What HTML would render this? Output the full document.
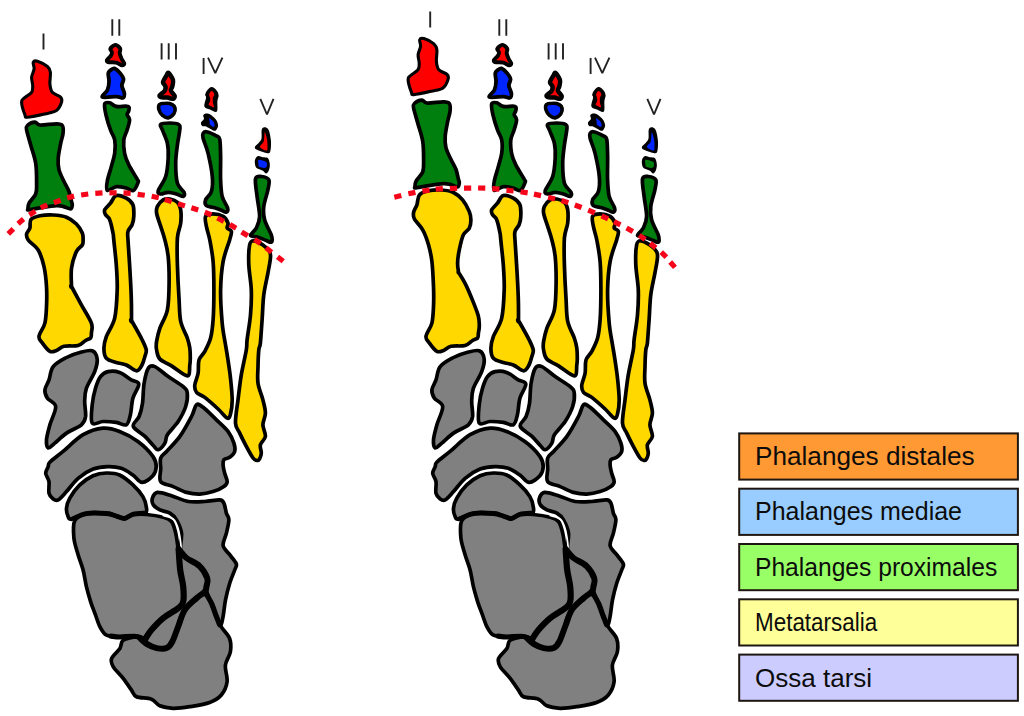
<!DOCTYPE html>
<html><head><meta charset="utf-8"><title>Ossa pedis</title>
<style>
html,body{margin:0;padding:0;background:#fff;}
body{width:1024px;height:716px;overflow:hidden;position:relative;font-family:"Liberation Sans",sans-serif;}
svg{position:absolute;left:0;top:0;display:block}
.lt{position:absolute;left:754.5px;height:30px;line-height:30px;font-size:26px;color:#0c0c0c;white-space:nowrap;transform-origin:0 50%;display:block}
</style></head><body>
<svg width="1024" height="716" viewBox="0 0 1024 716">
<defs><clipPath id="c1"><path d="M115.5,44.6 C117.2,44.6 119.8,47.2 120.5,48.6 C121.2,50.0 119.7,51.5 120.0,53.2 C120.3,55.0 121.3,57.4 122.1,59.1 C122.9,60.8 124.6,62.4 124.6,63.5 C124.6,64.6 123.5,65.8 122.1,65.7 C120.7,65.6 118.6,63.5 116.3,62.9 C114.0,62.3 109.6,62.9 108.0,62.4 C106.4,61.9 106.3,61.0 106.7,59.9 C107.1,58.8 109.7,57.0 110.5,55.7 C111.3,54.5 111.8,53.6 111.7,52.4 C111.6,51.2 109.4,49.9 110.0,48.6 C110.6,47.3 113.8,44.6 115.5,44.6Z"/></clipPath><clipPath id="c2"><path d="M114.7,68.2 C116.4,68.8 119.0,71.4 120.5,73.2 C122.0,75.0 123.5,76.9 123.8,79.0 C124.1,81.1 122.0,83.2 122.1,85.6 C122.2,87.9 124.4,91.0 124.6,93.1 C124.8,95.2 124.4,97.5 123.0,98.1 C121.6,98.7 119.8,96.9 116.3,96.8 C112.8,96.7 103.7,98.5 102.2,97.3 C100.7,96.1 106.1,92.4 107.2,89.8 C108.3,87.2 108.7,84.3 108.8,81.5 C108.9,78.7 107.7,75.1 108.0,73.2 C108.3,71.3 109.4,70.7 110.5,69.9 C111.6,69.1 113.0,67.7 114.7,68.2Z"/></clipPath><clipPath id="c3"><path d="M168.6,72.3 C169.9,73.0 172.8,77.4 173.5,79.8 C174.2,82.2 173.2,84.7 172.9,86.5 C172.6,88.3 171.1,89.1 171.5,90.6 C171.9,92.1 174.9,94.1 175.2,95.6 C175.5,97.1 174.8,99.0 173.5,99.4 C172.2,99.8 169.5,98.4 167.4,98.1 C165.3,97.8 162.1,98.3 160.7,97.8 C159.3,97.3 158.5,96.3 159.1,95.1 C159.7,93.9 163.1,92.0 164.1,90.6 C165.1,89.2 165.2,87.9 164.9,86.5 C164.6,85.1 162.3,84.1 162.4,82.3 C162.5,80.5 164.7,77.4 165.7,75.7 C166.7,74.0 167.3,71.6 168.6,72.3Z"/></clipPath><clipPath id="c4"><path d="M159.1,104.7 C160.2,103.5 163.5,103.1 165.7,103.1 C167.9,103.0 170.8,103.6 172.4,104.4 C174.0,105.2 174.9,106.5 175.2,108.1 C175.5,109.7 175.2,112.2 174.0,113.9 C172.8,115.6 170.1,117.7 168.2,118.0 C166.3,118.3 163.9,116.7 162.4,115.5 C160.9,114.3 159.7,112.4 159.1,110.6 C158.5,108.8 158.0,106.0 159.1,104.7Z"/></clipPath></defs>
<g><path d="M179.0,549.0 C180.0,546.8 182.5,554.2 186.0,557.0 C189.5,559.8 196.3,562.5 200.0,566.0 C203.7,569.5 206.8,574.3 208.0,578.0 C209.2,581.7 207.5,585.5 207.0,588.0 C206.5,590.5 206.7,591.2 205.0,593.0 C203.3,594.8 200.2,596.2 197.0,599.0 C193.8,601.8 189.0,605.5 186.0,610.0 C183.0,614.5 181.3,620.8 179.0,626.0 C176.7,631.2 174.2,637.3 172.0,641.0 C169.8,644.7 169.7,647.3 166.0,648.0 C162.3,648.7 153.3,646.7 150.0,645.0 C146.7,643.3 145.7,640.7 146.0,638.0 C146.3,635.3 149.2,632.3 152.0,629.0 C154.8,625.7 158.7,621.5 163.0,618.0 C167.3,614.5 174.7,610.8 178.0,608.0 C181.3,605.2 182.2,604.7 183.0,601.0 C183.8,597.3 183.5,591.2 183.0,586.0 C182.5,580.8 180.7,576.2 180.0,570.0 C179.3,563.8 178.0,551.2 179.0,549.0Z" fill="#808080"/>
<path d="M116.3,195.6 C118.9,194.8 123.5,196.6 126.3,198.1 C129.1,199.6 131.7,201.8 132.9,204.8 C134.2,207.9 133.9,213.1 133.8,216.4 C133.7,219.7 133.1,222.2 132.1,224.7 C131.1,227.2 128.7,228.8 128.0,231.4 C127.3,234.0 127.7,234.4 128.0,240.0 C128.3,245.6 129.0,255.2 129.6,264.9 C130.2,274.6 131.0,288.9 131.3,298.2 C131.6,307.5 131.5,316.8 131.5,320.5 C131.5,324.2 129.7,317.3 131.5,320.5 C133.3,323.7 139.7,334.8 142.1,339.7 C144.5,344.6 145.7,347.0 146.2,349.7 C146.7,352.4 145.7,353.4 145.0,356.0 C144.3,358.6 143.4,362.5 142.0,365.0 C140.6,367.5 139.1,370.8 136.5,370.8 C133.9,370.8 129.7,366.4 126.3,365.0 C122.9,363.6 119.6,363.6 116.3,362.5 C113.0,361.4 108.5,360.7 106.4,358.3 C104.3,355.9 103.9,351.6 103.9,348.0 C103.9,344.4 104.6,341.4 106.4,336.4 C108.2,331.4 112.9,325.9 114.7,318.1 C116.5,310.4 116.9,298.8 117.2,289.9 C117.5,281.0 116.9,273.2 116.3,264.9 C115.7,256.6 114.3,245.3 113.8,240.0 C113.2,234.7 113.7,236.4 113.0,233.0 C112.3,229.6 111.0,222.8 109.7,219.7 C108.5,216.6 106.3,216.3 105.5,214.7 C104.7,213.0 103.9,211.7 104.7,209.8 C105.5,207.9 108.6,205.5 110.5,203.1 C112.4,200.7 113.7,196.4 116.3,195.6Z" fill="#FFD800" stroke="#000" stroke-width="3.7" stroke-linejoin="round"/>
<path d="M163.2,199.8 C165.3,198.6 167.5,198.6 169.9,199.0 C172.3,199.4 175.6,200.5 177.4,202.3 C179.2,204.1 180.1,206.3 180.7,209.8 C181.2,213.3 181.2,218.4 180.7,223.1 C180.1,227.8 177.9,231.0 177.4,238.0 C176.9,245.0 177.1,254.9 177.4,264.9 C177.7,274.9 178.4,288.8 179.0,298.2 C179.6,307.6 179.3,314.8 180.7,321.4 C182.1,328.0 185.8,333.6 187.3,338.0 C188.8,342.4 189.3,344.7 189.8,348.0 C190.3,351.3 190.3,355.2 190.3,358.0 C190.3,360.8 190.3,362.0 189.8,365.0 C189.3,368.0 190.4,375.7 187.3,375.8 C184.2,375.9 176.1,368.6 171.5,365.8 C166.9,363.0 162.4,361.7 159.9,359.1 C157.4,356.5 157.2,352.9 156.6,350.0 C156.0,347.1 156.0,345.0 156.6,341.4 C157.2,337.8 158.1,333.4 159.9,328.1 C161.7,322.8 165.9,317.3 167.4,309.8 C168.9,302.3 169.0,292.1 169.1,283.2 C169.2,274.3 168.9,263.8 168.2,256.6 C167.5,249.4 166.2,245.0 164.9,240.0 C163.7,235.0 162.1,230.9 160.7,226.4 C159.3,221.9 157.1,216.4 156.6,213.1 C156.1,209.8 156.3,208.6 157.4,206.4 C158.5,204.2 161.1,201.0 163.2,199.8Z" fill="#FFD800" stroke="#000" stroke-width="3.7" stroke-linejoin="round"/>
<path d="M205.6,216.4 C206.7,214.3 210.2,213.9 213.1,213.9 C216.0,213.9 220.6,214.9 223.1,216.4 C225.6,217.9 227.3,221.2 228.0,223.1 C228.7,225.0 226.6,226.6 227.2,228.0 C227.8,229.4 231.0,229.5 231.4,231.4 C231.8,233.3 231.1,234.7 229.7,239.7 C228.3,244.7 224.6,253.2 223.1,261.6 C221.6,270.0 220.8,279.6 220.6,289.9 C220.4,300.1 221.4,314.0 222.2,323.1 C223.0,332.2 224.5,338.6 225.5,344.7 C226.5,350.8 227.2,354.4 228.0,360.0 C228.8,365.6 229.8,371.6 230.5,378.2 C231.2,384.8 232.2,393.9 232.2,399.9 C232.2,405.9 231.3,411.0 230.5,414.0 C229.7,417.0 229.3,418.9 227.2,418.1 C225.1,417.3 221.8,412.4 218.1,409.0 C214.4,405.6 208.4,400.2 204.8,397.4 C201.2,394.6 198.2,394.5 196.5,392.4 C194.8,390.3 194.5,388.1 194.8,384.9 C195.1,381.7 197.4,377.4 198.1,373.3 C198.8,369.2 197.9,363.7 199.0,360.0 C200.1,356.3 202.9,355.0 204.8,351.3 C206.7,347.6 209.2,343.2 210.6,338.0 C212.0,332.8 212.5,327.8 213.1,319.8 C213.7,311.8 213.9,299.6 213.9,289.9 C213.9,280.2 213.8,269.9 213.1,261.6 C212.4,253.3 210.9,245.9 209.8,240.0 C208.7,234.1 207.1,230.3 206.4,226.4 C205.7,222.5 204.5,218.5 205.6,216.4Z" fill="#FFD800" stroke="#000" stroke-width="3.7" stroke-linejoin="round"/>
<path d="M249.6,245.0 C250.4,241.0 251.6,240.8 253.8,240.8 C256.0,240.8 260.3,243.2 262.9,245.0 C265.5,246.8 268.4,249.4 269.6,251.6 C270.9,253.8 270.7,254.7 270.4,258.3 C270.1,261.9 269.0,267.1 267.9,273.2 C266.8,279.3 264.8,287.0 263.8,294.8 C262.8,302.6 262.7,311.8 262.1,319.8 C261.5,327.8 260.9,338.0 260.4,343.0 C259.8,348.0 259.2,346.1 258.8,350.0 C258.4,353.9 258.1,361.1 258.0,366.6 C257.9,372.1 257.2,377.6 258.0,383.2 C258.8,388.8 261.7,394.9 262.9,399.9 C264.1,404.9 265.4,409.0 265.4,413.1 C265.4,417.2 262.9,420.9 262.9,424.8 C262.9,428.7 265.8,433.1 265.4,436.4 C265.0,439.7 261.1,441.9 260.4,444.7 C259.7,447.5 261.4,450.6 261.3,453.0 C261.2,455.4 260.3,457.6 259.6,458.8 C258.9,460.1 258.2,460.6 257.1,460.5 C256.0,460.4 254.8,460.4 253.0,458.0 C251.2,455.6 248.5,450.5 246.3,446.4 C244.1,442.2 241.5,437.0 239.7,433.1 C237.9,429.2 235.8,428.6 235.5,423.1 C235.2,417.6 237.0,407.9 238.0,399.9 C239.0,391.9 239.9,383.2 241.3,374.9 C242.7,366.6 245.3,355.9 246.3,350.0 C247.3,344.1 246.4,345.6 247.1,339.7 C247.8,333.8 249.8,323.1 250.5,314.8 C251.2,306.5 251.6,298.2 251.3,289.9 C251.0,281.6 249.1,272.4 248.8,264.9 C248.5,257.4 248.8,249.0 249.6,245.0Z" fill="#FFD800" stroke="#000" stroke-width="3.7" stroke-linejoin="round"/>
<path d="M115.5,44.6 C117.2,44.6 119.8,47.2 120.5,48.6 C121.2,50.0 119.7,51.5 120.0,53.2 C120.3,55.0 121.3,57.4 122.1,59.1 C122.9,60.8 124.6,62.4 124.6,63.5 C124.6,64.6 123.5,65.8 122.1,65.7 C120.7,65.6 118.6,63.5 116.3,62.9 C114.0,62.3 109.6,62.9 108.0,62.4 C106.4,61.9 106.3,61.0 106.7,59.9 C107.1,58.8 109.7,57.0 110.5,55.7 C111.3,54.5 111.8,53.6 111.7,52.4 C111.6,51.2 109.4,49.9 110.0,48.6 C110.6,47.3 113.8,44.6 115.5,44.6Z" fill="#000" stroke="#000" stroke-width="3.3" stroke-linejoin="round"/><path d="M115.5,44.6 C117.2,44.6 119.8,47.2 120.5,48.6 C121.2,50.0 119.7,51.5 120.0,53.2 C120.3,55.0 121.3,57.4 122.1,59.1 C122.9,60.8 124.6,62.4 124.6,63.5 C124.6,64.6 123.5,65.8 122.1,65.7 C120.7,65.6 118.6,63.5 116.3,62.9 C114.0,62.3 109.6,62.9 108.0,62.4 C106.4,61.9 106.3,61.0 106.7,59.9 C107.1,58.8 109.7,57.0 110.5,55.7 C111.3,54.5 111.8,53.6 111.7,52.4 C111.6,51.2 109.4,49.9 110.0,48.6 C110.6,47.3 113.8,44.6 115.5,44.6Z" fill="#FF0000" stroke="#000" stroke-width="4.5" stroke-linejoin="round" clip-path="url(#c1)"/><path d="M115.5,44.6 C117.2,44.6 119.8,47.2 120.5,48.6 C121.2,50.0 119.7,51.5 120.0,53.2 C120.3,55.0 121.3,57.4 122.1,59.1 C122.9,60.8 124.6,62.4 124.6,63.5 C124.6,64.6 123.5,65.8 122.1,65.7 C120.7,65.6 118.6,63.5 116.3,62.9 C114.0,62.3 109.6,62.9 108.0,62.4 C106.4,61.9 106.3,61.0 106.7,59.9 C107.1,58.8 109.7,57.0 110.5,55.7 C111.3,54.5 111.8,53.6 111.7,52.4 C111.6,51.2 109.4,49.9 110.0,48.6 C110.6,47.3 113.8,44.6 115.5,44.6Z" fill="none" stroke="#000" stroke-width="2.0" stroke-linejoin="round"/>
<path d="M114.7,68.2 C116.4,68.8 119.0,71.4 120.5,73.2 C122.0,75.0 123.5,76.9 123.8,79.0 C124.1,81.1 122.0,83.2 122.1,85.6 C122.2,87.9 124.4,91.0 124.6,93.1 C124.8,95.2 124.4,97.5 123.0,98.1 C121.6,98.7 119.8,96.9 116.3,96.8 C112.8,96.7 103.7,98.5 102.2,97.3 C100.7,96.1 106.1,92.4 107.2,89.8 C108.3,87.2 108.7,84.3 108.8,81.5 C108.9,78.7 107.7,75.1 108.0,73.2 C108.3,71.3 109.4,70.7 110.5,69.9 C111.6,69.1 113.0,67.7 114.7,68.2Z" fill="#000" stroke="#000" stroke-width="3.3" stroke-linejoin="round"/><path d="M114.7,68.2 C116.4,68.8 119.0,71.4 120.5,73.2 C122.0,75.0 123.5,76.9 123.8,79.0 C124.1,81.1 122.0,83.2 122.1,85.6 C122.2,87.9 124.4,91.0 124.6,93.1 C124.8,95.2 124.4,97.5 123.0,98.1 C121.6,98.7 119.8,96.9 116.3,96.8 C112.8,96.7 103.7,98.5 102.2,97.3 C100.7,96.1 106.1,92.4 107.2,89.8 C108.3,87.2 108.7,84.3 108.8,81.5 C108.9,78.7 107.7,75.1 108.0,73.2 C108.3,71.3 109.4,70.7 110.5,69.9 C111.6,69.1 113.0,67.7 114.7,68.2Z" fill="#0026FF" stroke="#000" stroke-width="4.3" stroke-linejoin="round" clip-path="url(#c2)"/><path d="M114.7,68.2 C116.4,68.8 119.0,71.4 120.5,73.2 C122.0,75.0 123.5,76.9 123.8,79.0 C124.1,81.1 122.0,83.2 122.1,85.6 C122.2,87.9 124.4,91.0 124.6,93.1 C124.8,95.2 124.4,97.5 123.0,98.1 C121.6,98.7 119.8,96.9 116.3,96.8 C112.8,96.7 103.7,98.5 102.2,97.3 C100.7,96.1 106.1,92.4 107.2,89.8 C108.3,87.2 108.7,84.3 108.8,81.5 C108.9,78.7 107.7,75.1 108.0,73.2 C108.3,71.3 109.4,70.7 110.5,69.9 C111.6,69.1 113.0,67.7 114.7,68.2Z" fill="none" stroke="#000" stroke-width="2.0" stroke-linejoin="round"/>
<path d="M104.7,103.9 C105.3,101.9 107.8,102.4 109.7,102.8 C111.6,103.2 113.2,105.8 116.3,106.4 C119.3,107.0 125.9,105.7 128.0,106.4 C130.1,107.1 129.0,109.2 128.8,110.6 C128.7,112.0 127.0,113.2 127.1,114.7 C127.2,116.2 129.6,117.2 129.6,119.7 C129.6,122.2 128.1,126.6 127.1,130.0 C126.1,133.4 124.2,136.1 123.8,140.0 C123.4,143.9 123.8,149.2 124.6,153.3 C125.4,157.5 126.7,160.6 128.8,164.9 C130.9,169.2 135.6,176.1 137.1,179.0 C138.6,181.9 138.8,180.4 138.1,182.3 C137.4,184.2 135.2,189.6 133.2,190.5 C131.2,191.4 128.8,188.7 126.0,188.0 C123.2,187.3 119.6,186.2 116.5,186.6 C113.4,187.0 108.8,191.2 107.3,190.3 C105.8,189.4 106.6,184.9 107.3,181.0 C108.0,177.1 110.1,171.2 111.3,166.6 C112.5,162.0 114.1,157.7 114.7,153.3 C115.3,148.9 115.4,143.9 114.7,140.0 C114.0,136.1 112.0,134.2 110.5,130.0 C109.0,125.8 107.0,119.3 106.0,115.0 C105.0,110.7 104.1,105.9 104.7,103.9Z" fill="#007F0E" stroke="#000" stroke-width="3.7" stroke-linejoin="round"/>
<path d="M168.6,72.3 C169.9,73.0 172.8,77.4 173.5,79.8 C174.2,82.2 173.2,84.7 172.9,86.5 C172.6,88.3 171.1,89.1 171.5,90.6 C171.9,92.1 174.9,94.1 175.2,95.6 C175.5,97.1 174.8,99.0 173.5,99.4 C172.2,99.8 169.5,98.4 167.4,98.1 C165.3,97.8 162.1,98.3 160.7,97.8 C159.3,97.3 158.5,96.3 159.1,95.1 C159.7,93.9 163.1,92.0 164.1,90.6 C165.1,89.2 165.2,87.9 164.9,86.5 C164.6,85.1 162.3,84.1 162.4,82.3 C162.5,80.5 164.7,77.4 165.7,75.7 C166.7,74.0 167.3,71.6 168.6,72.3Z" fill="#000" stroke="#000" stroke-width="3.3" stroke-linejoin="round"/><path d="M168.6,72.3 C169.9,73.0 172.8,77.4 173.5,79.8 C174.2,82.2 173.2,84.7 172.9,86.5 C172.6,88.3 171.1,89.1 171.5,90.6 C171.9,92.1 174.9,94.1 175.2,95.6 C175.5,97.1 174.8,99.0 173.5,99.4 C172.2,99.8 169.5,98.4 167.4,98.1 C165.3,97.8 162.1,98.3 160.7,97.8 C159.3,97.3 158.5,96.3 159.1,95.1 C159.7,93.9 163.1,92.0 164.1,90.6 C165.1,89.2 165.2,87.9 164.9,86.5 C164.6,85.1 162.3,84.1 162.4,82.3 C162.5,80.5 164.7,77.4 165.7,75.7 C166.7,74.0 167.3,71.6 168.6,72.3Z" fill="#FF0000" stroke="#000" stroke-width="5.6" stroke-linejoin="round" clip-path="url(#c3)"/><path d="M168.6,72.3 C169.9,73.0 172.8,77.4 173.5,79.8 C174.2,82.2 173.2,84.7 172.9,86.5 C172.6,88.3 171.1,89.1 171.5,90.6 C171.9,92.1 174.9,94.1 175.2,95.6 C175.5,97.1 174.8,99.0 173.5,99.4 C172.2,99.8 169.5,98.4 167.4,98.1 C165.3,97.8 162.1,98.3 160.7,97.8 C159.3,97.3 158.5,96.3 159.1,95.1 C159.7,93.9 163.1,92.0 164.1,90.6 C165.1,89.2 165.2,87.9 164.9,86.5 C164.6,85.1 162.3,84.1 162.4,82.3 C162.5,80.5 164.7,77.4 165.7,75.7 C166.7,74.0 167.3,71.6 168.6,72.3Z" fill="none" stroke="#000" stroke-width="2.0" stroke-linejoin="round"/>
<path d="M159.1,104.7 C160.2,103.5 163.5,103.1 165.7,103.1 C167.9,103.0 170.8,103.6 172.4,104.4 C174.0,105.2 174.9,106.5 175.2,108.1 C175.5,109.7 175.2,112.2 174.0,113.9 C172.8,115.6 170.1,117.7 168.2,118.0 C166.3,118.3 163.9,116.7 162.4,115.5 C160.9,114.3 159.7,112.4 159.1,110.6 C158.5,108.8 158.0,106.0 159.1,104.7Z" fill="#000" stroke="#000" stroke-width="3.3" stroke-linejoin="round"/><path d="M159.1,104.7 C160.2,103.5 163.5,103.1 165.7,103.1 C167.9,103.0 170.8,103.6 172.4,104.4 C174.0,105.2 174.9,106.5 175.2,108.1 C175.5,109.7 175.2,112.2 174.0,113.9 C172.8,115.6 170.1,117.7 168.2,118.0 C166.3,118.3 163.9,116.7 162.4,115.5 C160.9,114.3 159.7,112.4 159.1,110.6 C158.5,108.8 158.0,106.0 159.1,104.7Z" fill="#0026FF" stroke="#000" stroke-width="4.0" stroke-linejoin="round" clip-path="url(#c4)"/><path d="M159.1,104.7 C160.2,103.5 163.5,103.1 165.7,103.1 C167.9,103.0 170.8,103.6 172.4,104.4 C174.0,105.2 174.9,106.5 175.2,108.1 C175.5,109.7 175.2,112.2 174.0,113.9 C172.8,115.6 170.1,117.7 168.2,118.0 C166.3,118.3 163.9,116.7 162.4,115.5 C160.9,114.3 159.7,112.4 159.1,110.6 C158.5,108.8 158.0,106.0 159.1,104.7Z" fill="none" stroke="#000" stroke-width="2.0" stroke-linejoin="round"/>
<path d="M160.7,124.4 C161.9,123.2 166.8,123.0 169.9,123.0 C173.0,123.0 177.3,123.6 179.0,124.7 C180.7,125.8 180.1,126.3 179.8,129.7 C179.5,133.1 178.1,139.4 177.4,145.0 C176.7,150.6 175.7,156.8 175.7,163.2 C175.7,169.6 176.0,178.3 177.4,183.2 C178.8,188.0 183.0,190.1 184.0,192.3 C185.0,194.5 184.4,196.2 183.2,196.5 C181.9,196.8 179.0,194.7 176.5,194.0 C174.0,193.3 170.8,192.3 168.2,192.3 C165.6,192.3 162.4,194.3 160.7,194.0 C159.0,193.7 157.4,193.6 158.2,190.7 C159.0,187.8 164.0,181.9 165.7,176.5 C167.4,171.1 167.9,163.7 168.2,158.2 C168.5,152.7 168.4,148.0 167.4,143.3 C166.4,138.6 163.5,133.2 162.4,130.0 C161.3,126.8 159.4,125.6 160.7,124.4Z" fill="#007F0E" stroke="#000" stroke-width="3.7" stroke-linejoin="round"/>
<path d="M203.1,133.3 C203.7,132.2 204.2,131.3 206.4,131.7 C208.6,132.1 214.2,134.6 216.4,135.8 C218.6,137.0 219.0,135.9 219.7,139.1 C220.4,142.3 220.4,148.1 220.6,154.9 C220.8,161.7 220.3,173.0 220.6,179.9 C220.9,186.8 221.0,191.8 222.2,196.5 C223.4,201.2 226.9,205.4 227.6,208.0 C228.3,210.6 227.2,211.8 226.2,212.2 C225.2,212.6 223.4,211.0 221.5,210.3 C219.6,209.6 217.2,208.6 214.7,207.8 C212.2,207.0 207.9,206.9 206.4,205.6 C204.9,204.3 204.8,202.2 205.6,199.8 C206.4,197.5 210.3,195.4 211.4,191.5 C212.5,187.6 212.9,182.9 212.3,176.5 C211.8,170.1 209.6,159.7 208.1,153.3 C206.6,146.9 203.9,141.6 203.1,138.3 C202.3,135.0 202.5,134.4 203.1,133.3Z" fill="#007F0E" stroke="#000" stroke-width="3.7" stroke-linejoin="round"/>
<path d="M255.5,179.0 C256.2,175.7 259.1,176.3 261.3,176.5 C263.5,176.7 267.7,177.7 268.8,179.9 C269.9,182.1 268.7,185.4 267.9,189.8 C267.1,194.2 264.4,201.4 263.8,206.4 C263.2,211.4 263.4,215.0 264.6,219.7 C265.8,224.4 269.9,231.2 271.2,234.7 C272.4,238.2 272.2,239.2 272.1,240.5 C272.0,241.8 271.4,242.2 270.4,242.2 C269.4,242.2 268.4,241.3 266.3,240.5 C264.2,239.7 260.6,238.0 258.0,237.2 C255.4,236.4 250.8,237.0 250.5,235.5 C250.2,234.0 254.8,231.2 256.3,228.0 C257.8,224.8 259.5,221.7 259.6,216.4 C259.7,211.2 257.8,202.7 257.1,196.5 C256.4,190.3 254.8,182.3 255.5,179.0Z" fill="#007F0E" stroke="#000" stroke-width="3.7" stroke-linejoin="round"/>
<path d="M53.2,366.6 C56.1,362.9 62.1,359.9 66.5,357.5 C70.9,355.1 75.5,353.6 79.8,352.5 C84.1,351.4 89.3,349.7 92.2,350.8 C95.1,351.9 96.8,355.6 97.2,359.1 C97.6,362.6 96.5,366.8 94.7,371.6 C92.9,376.5 88.1,383.2 86.4,388.2 C84.7,393.2 84.8,396.8 84.7,401.5 C84.6,406.2 86.1,412.6 85.6,416.5 C85.0,420.4 84.6,422.0 81.4,424.8 C78.2,427.6 70.9,430.1 66.5,433.1 C62.1,436.2 57.8,440.6 54.8,443.1 C51.8,445.6 49.6,448.6 48.2,448.0 C46.8,447.4 46.2,443.6 46.5,439.7 C46.8,435.8 48.4,430.3 49.9,424.8 C51.4,419.3 56.1,410.9 55.7,406.5 C55.3,402.1 49.2,401.0 47.4,398.2 C45.6,395.4 44.6,392.9 44.9,389.9 C45.2,386.8 47.6,383.8 49.0,379.9 C50.4,376.0 50.3,370.3 53.2,366.6Z" fill="#808080" stroke="#000" stroke-width="3.7" stroke-linejoin="round"/>
<path d="M100.5,376.6 C102.6,373.8 104.8,372.3 108.0,371.6 C111.2,370.9 115.7,371.0 119.6,372.4 C123.5,373.8 128.1,377.9 131.3,379.9 C134.5,381.8 138.5,381.1 138.8,384.1 C139.1,387.2 134.3,393.1 132.9,398.2 C131.5,403.3 131.5,410.4 130.4,414.8 C129.3,419.2 128.7,423.6 126.3,424.8 C123.9,426.1 120.2,422.9 116.3,422.3 C112.4,421.8 107.0,421.4 103.0,421.5 C99.0,421.6 94.0,425.9 92.2,423.1 C90.4,420.3 91.7,410.6 92.2,404.8 C92.8,399.0 94.1,392.9 95.5,388.2 C96.9,383.5 98.4,379.4 100.5,376.6Z" fill="#808080" stroke="#000" stroke-width="3.7" stroke-linejoin="round"/>
<path d="M148.3,368.3 C150.1,365.5 151.6,365.2 154.9,366.6 C158.2,368.0 163.5,373.3 168.2,376.6 C172.9,379.9 180.0,383.8 183.2,386.6 C186.4,389.4 186.9,389.9 187.3,393.2 C187.7,396.5 187.2,401.8 185.7,406.5 C184.2,411.2 181.2,416.8 178.2,421.5 C175.1,426.2 169.6,431.1 167.4,434.7 C165.2,438.3 166.4,440.6 164.9,443.1 C163.4,445.6 160.1,449.3 158.2,449.7 C156.3,450.1 155.5,447.7 153.3,445.5 C151.1,443.3 148.3,439.6 145.0,436.4 C141.7,433.2 134.3,429.7 133.3,426.4 C132.3,423.1 137.6,420.4 139.1,416.5 C140.6,412.6 141.7,408.8 142.5,403.2 C143.3,397.6 143.1,389.0 144.1,383.2 C145.1,377.4 146.5,371.1 148.3,368.3Z" fill="#808080" stroke="#000" stroke-width="3.7" stroke-linejoin="round"/>
<path d="M196.5,404.8 C198.4,403.3 199.8,404.8 203.1,407.3 C206.4,409.8 212.2,415.8 216.4,419.8 C220.6,423.8 225.1,427.5 228.0,431.4 C230.9,435.3 232.8,439.8 233.9,443.1 C235.0,446.4 235.4,449.0 234.7,451.4 C234.0,453.8 231.5,455.8 229.7,457.2 C227.9,458.6 225.0,458.4 223.9,459.7 C222.8,461.0 223.0,462.7 223.1,465.0 C223.2,467.3 224.0,470.5 224.7,473.3 C225.4,476.1 227.3,479.4 227.2,481.6 C227.1,483.8 226.2,484.9 223.9,486.6 C221.6,488.3 217.1,490.4 213.1,491.6 C209.1,492.9 204.2,494.0 199.8,494.1 C195.4,494.2 190.9,493.6 186.5,492.4 C182.1,491.1 177.5,488.4 173.2,486.6 C168.9,484.8 162.8,484.5 160.7,481.6 C158.6,478.7 160.7,472.9 160.7,469.0 C160.7,465.1 159.7,460.9 160.7,458.0 C161.7,455.1 163.4,455.0 166.6,451.4 C169.8,447.8 175.8,442.2 179.9,436.4 C184.1,430.6 188.7,421.8 191.5,416.5 C194.3,411.2 194.6,406.3 196.5,404.8Z" fill="#808080" stroke="#000" stroke-width="3.7" stroke-linejoin="round"/>
<path d="M48.2,466.6 C48.9,464.7 47.5,464.5 50.0,462.0 C52.5,459.5 57.6,455.9 63.1,451.4 C68.6,446.8 76.4,438.6 83.1,434.7 C89.8,430.8 96.9,428.7 103.0,428.1 C109.1,427.6 113.8,429.2 119.6,431.4 C125.4,433.6 132.3,437.2 137.9,441.4 C143.5,445.5 149.9,452.1 152.9,456.3 C155.9,460.5 156.2,463.4 156.2,466.6 C156.2,469.9 155.2,473.2 152.9,475.8 C150.6,478.4 145.4,482.5 142.1,482.4 C138.8,482.3 136.4,477.4 132.9,475.0 C129.4,472.6 125.5,469.7 121.3,468.3 C117.1,466.9 112.7,466.5 108.0,466.6 C103.3,466.7 98.1,467.2 93.1,469.1 C88.1,471.1 82.5,474.6 78.1,478.3 C73.7,482.1 69.8,488.0 66.5,491.6 C63.2,495.2 60.4,498.7 58.2,499.9 C56.0,501.1 54.7,500.1 53.2,499.0 C51.7,497.9 49.7,496.1 49.0,493.2 C48.3,490.3 49.5,484.9 49.0,481.6 C48.5,478.3 45.8,475.8 45.7,473.3 C45.6,470.8 47.5,468.5 48.2,466.6Z" fill="#808080" stroke="#000" stroke-width="3.7" stroke-linejoin="round"/>
<path d="M66.5,508.2 C66.8,505.1 67.6,502.1 69.8,498.2 C72.0,494.3 75.9,488.6 79.8,484.9 C83.7,481.2 88.7,477.8 93.1,475.8 C97.5,473.8 102.0,473.1 106.4,473.0 C110.8,472.9 115.2,473.0 119.6,475.0 C124.0,477.0 129.0,481.3 132.9,484.9 C136.8,488.5 140.7,493.0 142.9,496.6 C145.1,500.2 145.8,503.7 146.2,506.5 C146.6,509.3 147.6,512.0 145.4,513.2 C143.2,514.5 136.4,513.2 132.9,514.0 C129.4,514.8 127.4,517.9 124.6,518.2 C121.8,518.5 119.3,516.5 116.3,515.7 C113.3,514.9 111.4,513.6 106.4,513.2 C101.4,512.8 92.2,512.2 86.4,513.2 C80.6,514.2 74.5,518.5 71.5,519.0 C68.5,519.5 68.9,518.3 68.1,516.5 C67.3,514.7 66.2,511.2 66.5,508.2Z" fill="#808080" stroke="#000" stroke-width="3.7" stroke-linejoin="round"/>
<path d="M74.8,520.7 C76.9,516.7 81.1,515.3 86.4,514.2 C91.7,513.1 101.4,513.8 106.4,514.2 C111.4,514.6 113.3,515.9 116.3,516.7 C119.3,517.5 121.8,519.5 124.6,519.2 C127.4,518.9 129.3,515.8 132.9,515.0 C136.5,514.2 141.1,514.1 146.2,514.5 C151.2,514.9 159.0,516.1 163.2,517.3 C167.4,518.5 169.4,518.9 171.5,521.5 C173.6,524.1 174.6,528.4 175.7,533.1 C176.8,537.8 177.5,543.6 178.2,549.7 C178.9,555.9 179.1,563.9 179.9,570.0 C180.7,576.1 182.6,581.3 183.2,586.6 C183.8,591.9 184.0,598.0 183.2,601.6 C182.4,605.2 181.5,605.4 178.2,608.2 C174.9,611.0 167.6,614.6 163.2,618.2 C158.8,621.8 154.5,626.5 151.6,629.8 C148.7,633.1 148.3,637.0 145.8,638.1 C143.3,639.2 140.8,636.3 136.5,636.1 C132.2,635.9 124.9,637.0 119.9,636.9 C114.9,636.8 109.9,636.9 106.6,635.2 C103.3,633.5 101.9,630.5 100.0,626.9 C98.1,623.3 96.6,617.8 95.0,613.6 C93.4,609.4 92.0,606.1 90.6,601.6 C89.2,597.1 87.7,591.9 86.4,586.6 C85.2,581.3 84.5,575.3 83.1,570.0 C81.7,564.7 79.6,560.0 78.1,554.7 C76.6,549.4 74.5,543.8 73.9,538.1 C73.4,532.4 72.7,524.7 74.8,520.7Z" fill="#808080" stroke="#000" stroke-width="3.7" stroke-linejoin="round"/>
<path d="M152.4,498.2 C153.1,496.1 154.2,492.8 157.4,492.4 C160.6,492.0 166.4,494.2 171.5,495.7 C176.6,497.2 182.6,500.5 188.2,501.5 C193.8,502.5 199.6,501.8 204.8,501.5 C210.1,501.2 216.5,499.6 219.7,499.9 C222.9,500.2 222.8,501.0 223.9,503.2 C225.0,505.4 225.6,510.4 226.4,513.2 C227.2,516.0 228.9,516.5 228.9,519.8 C228.9,523.1 227.4,528.8 226.4,533.1 C225.4,537.4 222.6,542.0 223.1,545.6 C223.6,549.2 227.5,551.7 229.7,554.7 C231.9,557.8 235.5,561.4 236.3,563.9 C237.1,566.4 235.8,566.8 234.7,570.0 C233.6,573.2 231.2,578.3 229.7,583.3 C228.2,588.3 226.6,594.4 225.5,599.9 C224.4,605.4 223.9,612.4 223.1,616.5 C222.3,620.6 221.7,624.8 220.6,624.8 C219.5,624.8 217.9,620.1 216.4,616.5 C214.9,612.9 213.1,607.6 211.4,603.2 C209.7,598.8 207.1,594.1 206.4,590.0 C205.7,585.9 208.4,582.2 207.3,578.3 C206.2,574.3 203.3,569.7 199.8,566.3 C196.3,562.9 189.7,560.6 186.5,558.0 C183.3,555.4 181.3,554.8 180.5,550.6 C179.7,546.5 182.2,538.2 181.5,533.1 C180.8,528.0 178.4,523.1 176.5,519.8 C174.6,516.5 172.7,514.9 169.9,513.2 C167.1,511.6 162.7,511.3 159.9,509.9 C157.1,508.5 154.6,506.8 153.3,504.9 C152.1,502.9 151.7,500.3 152.4,498.2Z" fill="#808080" stroke="#000" stroke-width="3.7" stroke-linejoin="round"/>
<path d="M123.2,640.2 C126.0,638.3 132.9,637.0 136.5,637.0 C140.1,637.0 142.6,638.8 144.8,640.2 C147.0,641.6 147.0,643.8 149.8,645.2 C152.6,646.6 158.3,648.2 161.5,648.5 C164.7,648.8 166.7,648.7 168.9,646.8 C171.1,644.9 172.7,642.1 174.8,636.9 C176.9,631.6 178.4,621.4 181.4,615.3 C184.4,609.2 189.1,603.8 193.0,600.3 C196.9,596.8 201.6,594.0 204.7,594.5 C207.8,595.0 209.4,599.5 211.4,603.2 C213.4,606.9 214.8,612.5 216.4,616.5 C218.1,620.5 219.1,623.2 221.3,626.9 C223.5,630.6 228.1,634.4 229.6,638.5 C231.1,642.6 231.1,647.4 230.4,651.8 C229.7,656.2 226.0,660.1 225.4,665.1 C224.8,670.1 227.8,676.7 227.1,681.7 C226.4,686.7 224.2,691.5 221.3,695.0 C218.4,698.5 214.9,700.5 209.6,702.5 C204.3,704.5 195.8,705.7 189.7,706.7 C183.6,707.7 178.1,708.4 173.1,708.3 C168.1,708.1 163.4,707.3 159.8,705.8 C156.2,704.3 155.4,700.7 151.5,699.2 C147.6,697.7 139.8,698.2 136.5,696.7 C133.2,695.2 133.7,693.2 131.5,690.1 C129.3,687.0 126.2,682.3 123.2,678.4 C120.2,674.5 115.2,670.1 113.3,666.8 C111.4,663.5 110.5,661.5 111.6,658.5 C112.7,655.5 118.0,651.5 119.9,648.5 C121.8,645.5 120.4,642.1 123.2,640.2Z" fill="#808080" stroke="#000" stroke-width="3.7" stroke-linejoin="round"/>
<path d="M211.7,87.1 C213.2,87.1 215.2,88.9 216.4,90.3 C217.6,91.7 218.4,93.4 218.6,95.2 C218.8,97.0 217.7,98.3 217.4,101.0 C217.1,103.7 218.1,110.2 216.9,111.6 C215.7,113.0 212.1,110.4 210.0,109.5 C207.9,108.6 205.1,108.4 204.4,106.4 C203.8,104.4 206.0,99.5 206.1,97.6 C206.2,95.6 205.0,96.0 205.2,94.7 C205.4,93.4 206.4,91.3 207.5,90.0 C208.6,88.7 210.2,87.0 211.7,87.1Z" fill="#000"/>
<path d="M211.7,91.0 C212.3,91.0 213.2,91.8 213.6,92.5 C214.0,93.2 214.4,94.2 214.3,95.0 C214.2,95.8 213.4,96.3 213.2,97.0 C212.9,97.7 212.8,98.0 212.8,99.0 C212.8,100.0 212.8,101.6 213.0,103.0 C213.2,104.4 214.3,106.7 214.0,107.2 C213.7,107.7 211.9,106.6 211.0,106.2 C210.1,105.8 208.8,105.3 208.6,104.6 C208.4,103.9 209.5,102.9 209.8,102.0 C210.1,101.1 210.3,99.8 210.3,99.0 C210.3,98.2 210.0,97.7 209.8,97.0 C209.6,96.3 209.1,95.8 209.1,95.0 C209.1,94.2 209.5,93.2 209.9,92.5 C210.3,91.8 211.1,91.0 211.7,91.0Z" fill="#FF0000"/>
<path d="M205.6,113.6 C206.5,113.3 207.5,113.4 208.6,113.8 C209.7,114.2 210.7,114.7 212.0,115.8 C213.3,116.9 215.4,118.6 216.4,120.2 C217.4,121.8 218.1,124.0 218.1,125.5 C218.1,127.0 217.3,128.5 216.6,129.4 C215.9,130.3 215.7,131.2 213.9,130.7 C212.2,130.2 208.1,127.3 206.1,126.5 C204.1,125.7 203.0,126.7 202.2,126.0 C201.3,125.3 200.7,123.8 201.0,122.6 C201.3,121.4 203.5,120.1 203.9,118.9 C204.3,117.7 202.9,116.4 203.2,115.5 C203.5,114.6 204.7,113.9 205.6,113.6Z" fill="#000"/>
<path d="M209.1,118.2 C209.7,118.2 212.1,119.9 213.0,121.1 C213.9,122.3 214.7,124.6 214.7,125.5 C214.7,126.4 213.8,126.9 213.0,126.7 C212.2,126.5 210.6,125.4 210.0,124.5 C209.4,123.6 209.8,122.1 209.6,121.1 C209.4,120.0 208.5,118.2 209.1,118.2Z" fill="#0026FF"/>
<path d="M163.2,515.5 C164.4,515.9 168.6,516.8 170.5,517.6 C172.4,518.4 173.4,518.9 174.5,520.3 C175.6,521.7 176.5,523.9 177.3,526.0 C178.1,528.1 178.7,530.6 179.2,533.1 C179.7,535.6 180.2,538.4 180.5,541.0 C180.8,543.6 181.1,547.2 181.2,548.5" fill="none" stroke="#fff" stroke-width="1.7" stroke-linecap="round" stroke-linejoin="round" />
<path d="M71.5,519.0 C74.0,518.0 80.6,514.2 86.4,513.2 C92.2,512.2 101.4,512.8 106.4,513.2 C111.4,513.6 113.3,514.9 116.3,515.7 C119.3,516.5 121.8,518.5 124.6,518.2 C127.4,517.9 129.4,514.9 132.9,514.0 C136.4,513.1 143.3,513.0 145.4,512.8" fill="none" stroke="#000" stroke-width="4.2" stroke-linecap="round" stroke-linejoin="round" />
<path d="M179.9,550.6 C181.0,551.8 183.2,555.4 186.5,558.0 C189.8,560.6 196.3,562.9 199.8,566.3 C203.3,569.7 206.2,574.9 207.3,578.3 C208.4,581.7 206.8,584.4 206.4,586.6 C206.0,588.8 206.5,589.7 204.8,591.6 C203.2,593.5 199.8,595.2 196.5,598.2 C193.2,601.2 187.9,605.2 184.8,609.9 C181.8,614.6 180.3,621.2 178.2,626.5 C176.1,631.8 174.3,637.9 172.4,641.5 C170.5,645.1 169.2,647.0 166.6,648.1 C164.0,649.2 159.9,648.8 156.6,648.1 C153.3,647.4 149.4,645.6 146.6,643.9 C143.8,642.2 141.1,639.1 140.0,638.1" fill="none" stroke="#000" stroke-width="6" stroke-linecap="round" stroke-linejoin="round" />
<path d="M178.6,549.0 C178.9,552.5 179.4,563.7 180.2,570.0 C181.0,576.3 182.7,581.3 183.2,586.6 C183.7,591.9 184.0,598.0 183.2,601.6 C182.4,605.2 181.5,605.4 178.2,608.2 C174.9,611.0 167.6,614.6 163.2,618.2 C158.8,621.8 154.5,626.5 151.6,629.8 C148.7,633.1 146.8,636.7 145.8,638.1" fill="none" stroke="#000" stroke-width="6.2" stroke-linecap="round" stroke-linejoin="round" />
<path d="M204.8,591.6 C205.9,593.5 209.5,599.1 211.4,603.2 C213.3,607.4 215.0,612.9 216.4,616.5 C217.8,620.1 219.1,623.4 219.7,624.8" fill="none" stroke="#000" stroke-width="5.2" stroke-linecap="round" stroke-linejoin="round" />
<path d="M111.0,636.2 C112.5,636.3 115.7,637.0 119.9,637.0 C124.2,637.0 132.3,636.0 136.5,636.5 C140.7,637.0 143.4,639.6 144.8,640.2" fill="none" stroke="#000" stroke-width="5.2" stroke-linecap="round" stroke-linejoin="round" /></g>
<g transform="translate(387 0)"><path d="M179.0,549.0 C180.0,546.8 182.5,554.2 186.0,557.0 C189.5,559.8 196.3,562.5 200.0,566.0 C203.7,569.5 206.8,574.3 208.0,578.0 C209.2,581.7 207.5,585.5 207.0,588.0 C206.5,590.5 206.7,591.2 205.0,593.0 C203.3,594.8 200.2,596.2 197.0,599.0 C193.8,601.8 189.0,605.5 186.0,610.0 C183.0,614.5 181.3,620.8 179.0,626.0 C176.7,631.2 174.2,637.3 172.0,641.0 C169.8,644.7 169.7,647.3 166.0,648.0 C162.3,648.7 153.3,646.7 150.0,645.0 C146.7,643.3 145.7,640.7 146.0,638.0 C146.3,635.3 149.2,632.3 152.0,629.0 C154.8,625.7 158.7,621.5 163.0,618.0 C167.3,614.5 174.7,610.8 178.0,608.0 C181.3,605.2 182.2,604.7 183.0,601.0 C183.8,597.3 183.5,591.2 183.0,586.0 C182.5,580.8 180.7,576.2 180.0,570.0 C179.3,563.8 178.0,551.2 179.0,549.0Z" fill="#808080"/>
<path d="M116.3,195.6 C118.9,194.8 123.5,196.6 126.3,198.1 C129.1,199.6 131.7,201.8 132.9,204.8 C134.2,207.9 133.9,213.1 133.8,216.4 C133.7,219.7 133.1,222.2 132.1,224.7 C131.1,227.2 128.7,228.8 128.0,231.4 C127.3,234.0 127.7,234.4 128.0,240.0 C128.3,245.6 129.0,255.2 129.6,264.9 C130.2,274.6 131.0,288.9 131.3,298.2 C131.6,307.5 131.5,316.8 131.5,320.5 C131.5,324.2 129.7,317.3 131.5,320.5 C133.3,323.7 139.7,334.8 142.1,339.7 C144.5,344.6 145.7,347.0 146.2,349.7 C146.7,352.4 145.7,353.4 145.0,356.0 C144.3,358.6 143.4,362.5 142.0,365.0 C140.6,367.5 139.1,370.8 136.5,370.8 C133.9,370.8 129.7,366.4 126.3,365.0 C122.9,363.6 119.6,363.6 116.3,362.5 C113.0,361.4 108.5,360.7 106.4,358.3 C104.3,355.9 103.9,351.6 103.9,348.0 C103.9,344.4 104.6,341.4 106.4,336.4 C108.2,331.4 112.9,325.9 114.7,318.1 C116.5,310.4 116.9,298.8 117.2,289.9 C117.5,281.0 116.9,273.2 116.3,264.9 C115.7,256.6 114.3,245.3 113.8,240.0 C113.2,234.7 113.7,236.4 113.0,233.0 C112.3,229.6 111.0,222.8 109.7,219.7 C108.5,216.6 106.3,216.3 105.5,214.7 C104.7,213.0 103.9,211.7 104.7,209.8 C105.5,207.9 108.6,205.5 110.5,203.1 C112.4,200.7 113.7,196.4 116.3,195.6Z" fill="#FFD800" stroke="#000" stroke-width="3.7" stroke-linejoin="round"/>
<path d="M163.2,199.8 C165.3,198.6 167.5,198.6 169.9,199.0 C172.3,199.4 175.6,200.5 177.4,202.3 C179.2,204.1 180.1,206.3 180.7,209.8 C181.2,213.3 181.2,218.4 180.7,223.1 C180.1,227.8 177.9,231.0 177.4,238.0 C176.9,245.0 177.1,254.9 177.4,264.9 C177.7,274.9 178.4,288.8 179.0,298.2 C179.6,307.6 179.3,314.8 180.7,321.4 C182.1,328.0 185.8,333.6 187.3,338.0 C188.8,342.4 189.3,344.7 189.8,348.0 C190.3,351.3 190.3,355.2 190.3,358.0 C190.3,360.8 190.3,362.0 189.8,365.0 C189.3,368.0 190.4,375.7 187.3,375.8 C184.2,375.9 176.1,368.6 171.5,365.8 C166.9,363.0 162.4,361.7 159.9,359.1 C157.4,356.5 157.2,352.9 156.6,350.0 C156.0,347.1 156.0,345.0 156.6,341.4 C157.2,337.8 158.1,333.4 159.9,328.1 C161.7,322.8 165.9,317.3 167.4,309.8 C168.9,302.3 169.0,292.1 169.1,283.2 C169.2,274.3 168.9,263.8 168.2,256.6 C167.5,249.4 166.2,245.0 164.9,240.0 C163.7,235.0 162.1,230.9 160.7,226.4 C159.3,221.9 157.1,216.4 156.6,213.1 C156.1,209.8 156.3,208.6 157.4,206.4 C158.5,204.2 161.1,201.0 163.2,199.8Z" fill="#FFD800" stroke="#000" stroke-width="3.7" stroke-linejoin="round"/>
<path d="M205.6,216.4 C206.7,214.3 210.2,213.9 213.1,213.9 C216.0,213.9 220.6,214.9 223.1,216.4 C225.6,217.9 227.3,221.2 228.0,223.1 C228.7,225.0 226.6,226.6 227.2,228.0 C227.8,229.4 231.0,229.5 231.4,231.4 C231.8,233.3 231.1,234.7 229.7,239.7 C228.3,244.7 224.6,253.2 223.1,261.6 C221.6,270.0 220.8,279.6 220.6,289.9 C220.4,300.1 221.4,314.0 222.2,323.1 C223.0,332.2 224.5,338.6 225.5,344.7 C226.5,350.8 227.2,354.4 228.0,360.0 C228.8,365.6 229.8,371.6 230.5,378.2 C231.2,384.8 232.2,393.9 232.2,399.9 C232.2,405.9 231.3,411.0 230.5,414.0 C229.7,417.0 229.3,418.9 227.2,418.1 C225.1,417.3 221.8,412.4 218.1,409.0 C214.4,405.6 208.4,400.2 204.8,397.4 C201.2,394.6 198.2,394.5 196.5,392.4 C194.8,390.3 194.5,388.1 194.8,384.9 C195.1,381.7 197.4,377.4 198.1,373.3 C198.8,369.2 197.9,363.7 199.0,360.0 C200.1,356.3 202.9,355.0 204.8,351.3 C206.7,347.6 209.2,343.2 210.6,338.0 C212.0,332.8 212.5,327.8 213.1,319.8 C213.7,311.8 213.9,299.6 213.9,289.9 C213.9,280.2 213.8,269.9 213.1,261.6 C212.4,253.3 210.9,245.9 209.8,240.0 C208.7,234.1 207.1,230.3 206.4,226.4 C205.7,222.5 204.5,218.5 205.6,216.4Z" fill="#FFD800" stroke="#000" stroke-width="3.7" stroke-linejoin="round"/>
<path d="M249.6,245.0 C250.4,241.0 251.6,240.8 253.8,240.8 C256.0,240.8 260.3,243.2 262.9,245.0 C265.5,246.8 268.4,249.4 269.6,251.6 C270.9,253.8 270.7,254.7 270.4,258.3 C270.1,261.9 269.0,267.1 267.9,273.2 C266.8,279.3 264.8,287.0 263.8,294.8 C262.8,302.6 262.7,311.8 262.1,319.8 C261.5,327.8 260.9,338.0 260.4,343.0 C259.8,348.0 259.2,346.1 258.8,350.0 C258.4,353.9 258.1,361.1 258.0,366.6 C257.9,372.1 257.2,377.6 258.0,383.2 C258.8,388.8 261.7,394.9 262.9,399.9 C264.1,404.9 265.4,409.0 265.4,413.1 C265.4,417.2 262.9,420.9 262.9,424.8 C262.9,428.7 265.8,433.1 265.4,436.4 C265.0,439.7 261.1,441.9 260.4,444.7 C259.7,447.5 261.4,450.6 261.3,453.0 C261.2,455.4 260.3,457.6 259.6,458.8 C258.9,460.1 258.2,460.6 257.1,460.5 C256.0,460.4 254.8,460.4 253.0,458.0 C251.2,455.6 248.5,450.5 246.3,446.4 C244.1,442.2 241.5,437.0 239.7,433.1 C237.9,429.2 235.8,428.6 235.5,423.1 C235.2,417.6 237.0,407.9 238.0,399.9 C239.0,391.9 239.9,383.2 241.3,374.9 C242.7,366.6 245.3,355.9 246.3,350.0 C247.3,344.1 246.4,345.6 247.1,339.7 C247.8,333.8 249.8,323.1 250.5,314.8 C251.2,306.5 251.6,298.2 251.3,289.9 C251.0,281.6 249.1,272.4 248.8,264.9 C248.5,257.4 248.8,249.0 249.6,245.0Z" fill="#FFD800" stroke="#000" stroke-width="3.7" stroke-linejoin="round"/>
<path d="M115.5,44.6 C117.2,44.6 119.8,47.2 120.5,48.6 C121.2,50.0 119.7,51.5 120.0,53.2 C120.3,55.0 121.3,57.4 122.1,59.1 C122.9,60.8 124.6,62.4 124.6,63.5 C124.6,64.6 123.5,65.8 122.1,65.7 C120.7,65.6 118.6,63.5 116.3,62.9 C114.0,62.3 109.6,62.9 108.0,62.4 C106.4,61.9 106.3,61.0 106.7,59.9 C107.1,58.8 109.7,57.0 110.5,55.7 C111.3,54.5 111.8,53.6 111.7,52.4 C111.6,51.2 109.4,49.9 110.0,48.6 C110.6,47.3 113.8,44.6 115.5,44.6Z" fill="#000" stroke="#000" stroke-width="3.3" stroke-linejoin="round"/><path d="M115.5,44.6 C117.2,44.6 119.8,47.2 120.5,48.6 C121.2,50.0 119.7,51.5 120.0,53.2 C120.3,55.0 121.3,57.4 122.1,59.1 C122.9,60.8 124.6,62.4 124.6,63.5 C124.6,64.6 123.5,65.8 122.1,65.7 C120.7,65.6 118.6,63.5 116.3,62.9 C114.0,62.3 109.6,62.9 108.0,62.4 C106.4,61.9 106.3,61.0 106.7,59.9 C107.1,58.8 109.7,57.0 110.5,55.7 C111.3,54.5 111.8,53.6 111.7,52.4 C111.6,51.2 109.4,49.9 110.0,48.6 C110.6,47.3 113.8,44.6 115.5,44.6Z" fill="#FF0000" stroke="#000" stroke-width="4.5" stroke-linejoin="round" clip-path="url(#c1)"/><path d="M115.5,44.6 C117.2,44.6 119.8,47.2 120.5,48.6 C121.2,50.0 119.7,51.5 120.0,53.2 C120.3,55.0 121.3,57.4 122.1,59.1 C122.9,60.8 124.6,62.4 124.6,63.5 C124.6,64.6 123.5,65.8 122.1,65.7 C120.7,65.6 118.6,63.5 116.3,62.9 C114.0,62.3 109.6,62.9 108.0,62.4 C106.4,61.9 106.3,61.0 106.7,59.9 C107.1,58.8 109.7,57.0 110.5,55.7 C111.3,54.5 111.8,53.6 111.7,52.4 C111.6,51.2 109.4,49.9 110.0,48.6 C110.6,47.3 113.8,44.6 115.5,44.6Z" fill="none" stroke="#000" stroke-width="2.0" stroke-linejoin="round"/>
<path d="M114.7,68.2 C116.4,68.8 119.0,71.4 120.5,73.2 C122.0,75.0 123.5,76.9 123.8,79.0 C124.1,81.1 122.0,83.2 122.1,85.6 C122.2,87.9 124.4,91.0 124.6,93.1 C124.8,95.2 124.4,97.5 123.0,98.1 C121.6,98.7 119.8,96.9 116.3,96.8 C112.8,96.7 103.7,98.5 102.2,97.3 C100.7,96.1 106.1,92.4 107.2,89.8 C108.3,87.2 108.7,84.3 108.8,81.5 C108.9,78.7 107.7,75.1 108.0,73.2 C108.3,71.3 109.4,70.7 110.5,69.9 C111.6,69.1 113.0,67.7 114.7,68.2Z" fill="#000" stroke="#000" stroke-width="3.3" stroke-linejoin="round"/><path d="M114.7,68.2 C116.4,68.8 119.0,71.4 120.5,73.2 C122.0,75.0 123.5,76.9 123.8,79.0 C124.1,81.1 122.0,83.2 122.1,85.6 C122.2,87.9 124.4,91.0 124.6,93.1 C124.8,95.2 124.4,97.5 123.0,98.1 C121.6,98.7 119.8,96.9 116.3,96.8 C112.8,96.7 103.7,98.5 102.2,97.3 C100.7,96.1 106.1,92.4 107.2,89.8 C108.3,87.2 108.7,84.3 108.8,81.5 C108.9,78.7 107.7,75.1 108.0,73.2 C108.3,71.3 109.4,70.7 110.5,69.9 C111.6,69.1 113.0,67.7 114.7,68.2Z" fill="#0026FF" stroke="#000" stroke-width="4.3" stroke-linejoin="round" clip-path="url(#c2)"/><path d="M114.7,68.2 C116.4,68.8 119.0,71.4 120.5,73.2 C122.0,75.0 123.5,76.9 123.8,79.0 C124.1,81.1 122.0,83.2 122.1,85.6 C122.2,87.9 124.4,91.0 124.6,93.1 C124.8,95.2 124.4,97.5 123.0,98.1 C121.6,98.7 119.8,96.9 116.3,96.8 C112.8,96.7 103.7,98.5 102.2,97.3 C100.7,96.1 106.1,92.4 107.2,89.8 C108.3,87.2 108.7,84.3 108.8,81.5 C108.9,78.7 107.7,75.1 108.0,73.2 C108.3,71.3 109.4,70.7 110.5,69.9 C111.6,69.1 113.0,67.7 114.7,68.2Z" fill="none" stroke="#000" stroke-width="2.0" stroke-linejoin="round"/>
<path d="M104.7,103.9 C105.3,101.9 107.8,102.4 109.7,102.8 C111.6,103.2 113.2,105.8 116.3,106.4 C119.3,107.0 125.9,105.7 128.0,106.4 C130.1,107.1 129.0,109.2 128.8,110.6 C128.7,112.0 127.0,113.2 127.1,114.7 C127.2,116.2 129.6,117.2 129.6,119.7 C129.6,122.2 128.1,126.6 127.1,130.0 C126.1,133.4 124.2,136.1 123.8,140.0 C123.4,143.9 123.8,149.2 124.6,153.3 C125.4,157.5 126.7,160.6 128.8,164.9 C130.9,169.2 135.6,176.1 137.1,179.0 C138.6,181.9 138.8,180.4 138.1,182.3 C137.4,184.2 135.2,189.6 133.2,190.5 C131.2,191.4 128.8,188.7 126.0,188.0 C123.2,187.3 119.6,186.2 116.5,186.6 C113.4,187.0 108.8,191.2 107.3,190.3 C105.8,189.4 106.6,184.9 107.3,181.0 C108.0,177.1 110.1,171.2 111.3,166.6 C112.5,162.0 114.1,157.7 114.7,153.3 C115.3,148.9 115.4,143.9 114.7,140.0 C114.0,136.1 112.0,134.2 110.5,130.0 C109.0,125.8 107.0,119.3 106.0,115.0 C105.0,110.7 104.1,105.9 104.7,103.9Z" fill="#007F0E" stroke="#000" stroke-width="3.7" stroke-linejoin="round"/>
<path d="M168.6,72.3 C169.9,73.0 172.8,77.4 173.5,79.8 C174.2,82.2 173.2,84.7 172.9,86.5 C172.6,88.3 171.1,89.1 171.5,90.6 C171.9,92.1 174.9,94.1 175.2,95.6 C175.5,97.1 174.8,99.0 173.5,99.4 C172.2,99.8 169.5,98.4 167.4,98.1 C165.3,97.8 162.1,98.3 160.7,97.8 C159.3,97.3 158.5,96.3 159.1,95.1 C159.7,93.9 163.1,92.0 164.1,90.6 C165.1,89.2 165.2,87.9 164.9,86.5 C164.6,85.1 162.3,84.1 162.4,82.3 C162.5,80.5 164.7,77.4 165.7,75.7 C166.7,74.0 167.3,71.6 168.6,72.3Z" fill="#000" stroke="#000" stroke-width="3.3" stroke-linejoin="round"/><path d="M168.6,72.3 C169.9,73.0 172.8,77.4 173.5,79.8 C174.2,82.2 173.2,84.7 172.9,86.5 C172.6,88.3 171.1,89.1 171.5,90.6 C171.9,92.1 174.9,94.1 175.2,95.6 C175.5,97.1 174.8,99.0 173.5,99.4 C172.2,99.8 169.5,98.4 167.4,98.1 C165.3,97.8 162.1,98.3 160.7,97.8 C159.3,97.3 158.5,96.3 159.1,95.1 C159.7,93.9 163.1,92.0 164.1,90.6 C165.1,89.2 165.2,87.9 164.9,86.5 C164.6,85.1 162.3,84.1 162.4,82.3 C162.5,80.5 164.7,77.4 165.7,75.7 C166.7,74.0 167.3,71.6 168.6,72.3Z" fill="#FF0000" stroke="#000" stroke-width="5.6" stroke-linejoin="round" clip-path="url(#c3)"/><path d="M168.6,72.3 C169.9,73.0 172.8,77.4 173.5,79.8 C174.2,82.2 173.2,84.7 172.9,86.5 C172.6,88.3 171.1,89.1 171.5,90.6 C171.9,92.1 174.9,94.1 175.2,95.6 C175.5,97.1 174.8,99.0 173.5,99.4 C172.2,99.8 169.5,98.4 167.4,98.1 C165.3,97.8 162.1,98.3 160.7,97.8 C159.3,97.3 158.5,96.3 159.1,95.1 C159.7,93.9 163.1,92.0 164.1,90.6 C165.1,89.2 165.2,87.9 164.9,86.5 C164.6,85.1 162.3,84.1 162.4,82.3 C162.5,80.5 164.7,77.4 165.7,75.7 C166.7,74.0 167.3,71.6 168.6,72.3Z" fill="none" stroke="#000" stroke-width="2.0" stroke-linejoin="round"/>
<path d="M159.1,104.7 C160.2,103.5 163.5,103.1 165.7,103.1 C167.9,103.0 170.8,103.6 172.4,104.4 C174.0,105.2 174.9,106.5 175.2,108.1 C175.5,109.7 175.2,112.2 174.0,113.9 C172.8,115.6 170.1,117.7 168.2,118.0 C166.3,118.3 163.9,116.7 162.4,115.5 C160.9,114.3 159.7,112.4 159.1,110.6 C158.5,108.8 158.0,106.0 159.1,104.7Z" fill="#000" stroke="#000" stroke-width="3.3" stroke-linejoin="round"/><path d="M159.1,104.7 C160.2,103.5 163.5,103.1 165.7,103.1 C167.9,103.0 170.8,103.6 172.4,104.4 C174.0,105.2 174.9,106.5 175.2,108.1 C175.5,109.7 175.2,112.2 174.0,113.9 C172.8,115.6 170.1,117.7 168.2,118.0 C166.3,118.3 163.9,116.7 162.4,115.5 C160.9,114.3 159.7,112.4 159.1,110.6 C158.5,108.8 158.0,106.0 159.1,104.7Z" fill="#0026FF" stroke="#000" stroke-width="4.0" stroke-linejoin="round" clip-path="url(#c4)"/><path d="M159.1,104.7 C160.2,103.5 163.5,103.1 165.7,103.1 C167.9,103.0 170.8,103.6 172.4,104.4 C174.0,105.2 174.9,106.5 175.2,108.1 C175.5,109.7 175.2,112.2 174.0,113.9 C172.8,115.6 170.1,117.7 168.2,118.0 C166.3,118.3 163.9,116.7 162.4,115.5 C160.9,114.3 159.7,112.4 159.1,110.6 C158.5,108.8 158.0,106.0 159.1,104.7Z" fill="none" stroke="#000" stroke-width="2.0" stroke-linejoin="round"/>
<path d="M160.7,124.4 C161.9,123.2 166.8,123.0 169.9,123.0 C173.0,123.0 177.3,123.6 179.0,124.7 C180.7,125.8 180.1,126.3 179.8,129.7 C179.5,133.1 178.1,139.4 177.4,145.0 C176.7,150.6 175.7,156.8 175.7,163.2 C175.7,169.6 176.0,178.3 177.4,183.2 C178.8,188.0 183.0,190.1 184.0,192.3 C185.0,194.5 184.4,196.2 183.2,196.5 C181.9,196.8 179.0,194.7 176.5,194.0 C174.0,193.3 170.8,192.3 168.2,192.3 C165.6,192.3 162.4,194.3 160.7,194.0 C159.0,193.7 157.4,193.6 158.2,190.7 C159.0,187.8 164.0,181.9 165.7,176.5 C167.4,171.1 167.9,163.7 168.2,158.2 C168.5,152.7 168.4,148.0 167.4,143.3 C166.4,138.6 163.5,133.2 162.4,130.0 C161.3,126.8 159.4,125.6 160.7,124.4Z" fill="#007F0E" stroke="#000" stroke-width="3.7" stroke-linejoin="round"/>
<path d="M203.1,133.3 C203.7,132.2 204.2,131.3 206.4,131.7 C208.6,132.1 214.2,134.6 216.4,135.8 C218.6,137.0 219.0,135.9 219.7,139.1 C220.4,142.3 220.4,148.1 220.6,154.9 C220.8,161.7 220.3,173.0 220.6,179.9 C220.9,186.8 221.0,191.8 222.2,196.5 C223.4,201.2 226.9,205.4 227.6,208.0 C228.3,210.6 227.2,211.8 226.2,212.2 C225.2,212.6 223.4,211.0 221.5,210.3 C219.6,209.6 217.2,208.6 214.7,207.8 C212.2,207.0 207.9,206.9 206.4,205.6 C204.9,204.3 204.8,202.2 205.6,199.8 C206.4,197.5 210.3,195.4 211.4,191.5 C212.5,187.6 212.9,182.9 212.3,176.5 C211.8,170.1 209.6,159.7 208.1,153.3 C206.6,146.9 203.9,141.6 203.1,138.3 C202.3,135.0 202.5,134.4 203.1,133.3Z" fill="#007F0E" stroke="#000" stroke-width="3.7" stroke-linejoin="round"/>
<path d="M255.5,179.0 C256.2,175.7 259.1,176.3 261.3,176.5 C263.5,176.7 267.7,177.7 268.8,179.9 C269.9,182.1 268.7,185.4 267.9,189.8 C267.1,194.2 264.4,201.4 263.8,206.4 C263.2,211.4 263.4,215.0 264.6,219.7 C265.8,224.4 269.9,231.2 271.2,234.7 C272.4,238.2 272.2,239.2 272.1,240.5 C272.0,241.8 271.4,242.2 270.4,242.2 C269.4,242.2 268.4,241.3 266.3,240.5 C264.2,239.7 260.6,238.0 258.0,237.2 C255.4,236.4 250.8,237.0 250.5,235.5 C250.2,234.0 254.8,231.2 256.3,228.0 C257.8,224.8 259.5,221.7 259.6,216.4 C259.7,211.2 257.8,202.7 257.1,196.5 C256.4,190.3 254.8,182.3 255.5,179.0Z" fill="#007F0E" stroke="#000" stroke-width="3.7" stroke-linejoin="round"/>
<path d="M53.2,366.6 C56.1,362.9 62.1,359.9 66.5,357.5 C70.9,355.1 75.5,353.6 79.8,352.5 C84.1,351.4 89.3,349.7 92.2,350.8 C95.1,351.9 96.8,355.6 97.2,359.1 C97.6,362.6 96.5,366.8 94.7,371.6 C92.9,376.5 88.1,383.2 86.4,388.2 C84.7,393.2 84.8,396.8 84.7,401.5 C84.6,406.2 86.1,412.6 85.6,416.5 C85.0,420.4 84.6,422.0 81.4,424.8 C78.2,427.6 70.9,430.1 66.5,433.1 C62.1,436.2 57.8,440.6 54.8,443.1 C51.8,445.6 49.6,448.6 48.2,448.0 C46.8,447.4 46.2,443.6 46.5,439.7 C46.8,435.8 48.4,430.3 49.9,424.8 C51.4,419.3 56.1,410.9 55.7,406.5 C55.3,402.1 49.2,401.0 47.4,398.2 C45.6,395.4 44.6,392.9 44.9,389.9 C45.2,386.8 47.6,383.8 49.0,379.9 C50.4,376.0 50.3,370.3 53.2,366.6Z" fill="#808080" stroke="#000" stroke-width="3.7" stroke-linejoin="round"/>
<path d="M100.5,376.6 C102.6,373.8 104.8,372.3 108.0,371.6 C111.2,370.9 115.7,371.0 119.6,372.4 C123.5,373.8 128.1,377.9 131.3,379.9 C134.5,381.8 138.5,381.1 138.8,384.1 C139.1,387.2 134.3,393.1 132.9,398.2 C131.5,403.3 131.5,410.4 130.4,414.8 C129.3,419.2 128.7,423.6 126.3,424.8 C123.9,426.1 120.2,422.9 116.3,422.3 C112.4,421.8 107.0,421.4 103.0,421.5 C99.0,421.6 94.0,425.9 92.2,423.1 C90.4,420.3 91.7,410.6 92.2,404.8 C92.8,399.0 94.1,392.9 95.5,388.2 C96.9,383.5 98.4,379.4 100.5,376.6Z" fill="#808080" stroke="#000" stroke-width="3.7" stroke-linejoin="round"/>
<path d="M148.3,368.3 C150.1,365.5 151.6,365.2 154.9,366.6 C158.2,368.0 163.5,373.3 168.2,376.6 C172.9,379.9 180.0,383.8 183.2,386.6 C186.4,389.4 186.9,389.9 187.3,393.2 C187.7,396.5 187.2,401.8 185.7,406.5 C184.2,411.2 181.2,416.8 178.2,421.5 C175.1,426.2 169.6,431.1 167.4,434.7 C165.2,438.3 166.4,440.6 164.9,443.1 C163.4,445.6 160.1,449.3 158.2,449.7 C156.3,450.1 155.5,447.7 153.3,445.5 C151.1,443.3 148.3,439.6 145.0,436.4 C141.7,433.2 134.3,429.7 133.3,426.4 C132.3,423.1 137.6,420.4 139.1,416.5 C140.6,412.6 141.7,408.8 142.5,403.2 C143.3,397.6 143.1,389.0 144.1,383.2 C145.1,377.4 146.5,371.1 148.3,368.3Z" fill="#808080" stroke="#000" stroke-width="3.7" stroke-linejoin="round"/>
<path d="M196.5,404.8 C198.4,403.3 199.8,404.8 203.1,407.3 C206.4,409.8 212.2,415.8 216.4,419.8 C220.6,423.8 225.1,427.5 228.0,431.4 C230.9,435.3 232.8,439.8 233.9,443.1 C235.0,446.4 235.4,449.0 234.7,451.4 C234.0,453.8 231.5,455.8 229.7,457.2 C227.9,458.6 225.0,458.4 223.9,459.7 C222.8,461.0 223.0,462.7 223.1,465.0 C223.2,467.3 224.0,470.5 224.7,473.3 C225.4,476.1 227.3,479.4 227.2,481.6 C227.1,483.8 226.2,484.9 223.9,486.6 C221.6,488.3 217.1,490.4 213.1,491.6 C209.1,492.9 204.2,494.0 199.8,494.1 C195.4,494.2 190.9,493.6 186.5,492.4 C182.1,491.1 177.5,488.4 173.2,486.6 C168.9,484.8 162.8,484.5 160.7,481.6 C158.6,478.7 160.7,472.9 160.7,469.0 C160.7,465.1 159.7,460.9 160.7,458.0 C161.7,455.1 163.4,455.0 166.6,451.4 C169.8,447.8 175.8,442.2 179.9,436.4 C184.1,430.6 188.7,421.8 191.5,416.5 C194.3,411.2 194.6,406.3 196.5,404.8Z" fill="#808080" stroke="#000" stroke-width="3.7" stroke-linejoin="round"/>
<path d="M48.2,466.6 C48.9,464.7 47.5,464.5 50.0,462.0 C52.5,459.5 57.6,455.9 63.1,451.4 C68.6,446.8 76.4,438.6 83.1,434.7 C89.8,430.8 96.9,428.7 103.0,428.1 C109.1,427.6 113.8,429.2 119.6,431.4 C125.4,433.6 132.3,437.2 137.9,441.4 C143.5,445.5 149.9,452.1 152.9,456.3 C155.9,460.5 156.2,463.4 156.2,466.6 C156.2,469.9 155.2,473.2 152.9,475.8 C150.6,478.4 145.4,482.5 142.1,482.4 C138.8,482.3 136.4,477.4 132.9,475.0 C129.4,472.6 125.5,469.7 121.3,468.3 C117.1,466.9 112.7,466.5 108.0,466.6 C103.3,466.7 98.1,467.2 93.1,469.1 C88.1,471.1 82.5,474.6 78.1,478.3 C73.7,482.1 69.8,488.0 66.5,491.6 C63.2,495.2 60.4,498.7 58.2,499.9 C56.0,501.1 54.7,500.1 53.2,499.0 C51.7,497.9 49.7,496.1 49.0,493.2 C48.3,490.3 49.5,484.9 49.0,481.6 C48.5,478.3 45.8,475.8 45.7,473.3 C45.6,470.8 47.5,468.5 48.2,466.6Z" fill="#808080" stroke="#000" stroke-width="3.7" stroke-linejoin="round"/>
<path d="M66.5,508.2 C66.8,505.1 67.6,502.1 69.8,498.2 C72.0,494.3 75.9,488.6 79.8,484.9 C83.7,481.2 88.7,477.8 93.1,475.8 C97.5,473.8 102.0,473.1 106.4,473.0 C110.8,472.9 115.2,473.0 119.6,475.0 C124.0,477.0 129.0,481.3 132.9,484.9 C136.8,488.5 140.7,493.0 142.9,496.6 C145.1,500.2 145.8,503.7 146.2,506.5 C146.6,509.3 147.6,512.0 145.4,513.2 C143.2,514.5 136.4,513.2 132.9,514.0 C129.4,514.8 127.4,517.9 124.6,518.2 C121.8,518.5 119.3,516.5 116.3,515.7 C113.3,514.9 111.4,513.6 106.4,513.2 C101.4,512.8 92.2,512.2 86.4,513.2 C80.6,514.2 74.5,518.5 71.5,519.0 C68.5,519.5 68.9,518.3 68.1,516.5 C67.3,514.7 66.2,511.2 66.5,508.2Z" fill="#808080" stroke="#000" stroke-width="3.7" stroke-linejoin="round"/>
<path d="M74.8,520.7 C76.9,516.7 81.1,515.3 86.4,514.2 C91.7,513.1 101.4,513.8 106.4,514.2 C111.4,514.6 113.3,515.9 116.3,516.7 C119.3,517.5 121.8,519.5 124.6,519.2 C127.4,518.9 129.3,515.8 132.9,515.0 C136.5,514.2 141.1,514.1 146.2,514.5 C151.2,514.9 159.0,516.1 163.2,517.3 C167.4,518.5 169.4,518.9 171.5,521.5 C173.6,524.1 174.6,528.4 175.7,533.1 C176.8,537.8 177.5,543.6 178.2,549.7 C178.9,555.9 179.1,563.9 179.9,570.0 C180.7,576.1 182.6,581.3 183.2,586.6 C183.8,591.9 184.0,598.0 183.2,601.6 C182.4,605.2 181.5,605.4 178.2,608.2 C174.9,611.0 167.6,614.6 163.2,618.2 C158.8,621.8 154.5,626.5 151.6,629.8 C148.7,633.1 148.3,637.0 145.8,638.1 C143.3,639.2 140.8,636.3 136.5,636.1 C132.2,635.9 124.9,637.0 119.9,636.9 C114.9,636.8 109.9,636.9 106.6,635.2 C103.3,633.5 101.9,630.5 100.0,626.9 C98.1,623.3 96.6,617.8 95.0,613.6 C93.4,609.4 92.0,606.1 90.6,601.6 C89.2,597.1 87.7,591.9 86.4,586.6 C85.2,581.3 84.5,575.3 83.1,570.0 C81.7,564.7 79.6,560.0 78.1,554.7 C76.6,549.4 74.5,543.8 73.9,538.1 C73.4,532.4 72.7,524.7 74.8,520.7Z" fill="#808080" stroke="#000" stroke-width="3.7" stroke-linejoin="round"/>
<path d="M152.4,498.2 C153.1,496.1 154.2,492.8 157.4,492.4 C160.6,492.0 166.4,494.2 171.5,495.7 C176.6,497.2 182.6,500.5 188.2,501.5 C193.8,502.5 199.6,501.8 204.8,501.5 C210.1,501.2 216.5,499.6 219.7,499.9 C222.9,500.2 222.8,501.0 223.9,503.2 C225.0,505.4 225.6,510.4 226.4,513.2 C227.2,516.0 228.9,516.5 228.9,519.8 C228.9,523.1 227.4,528.8 226.4,533.1 C225.4,537.4 222.6,542.0 223.1,545.6 C223.6,549.2 227.5,551.7 229.7,554.7 C231.9,557.8 235.5,561.4 236.3,563.9 C237.1,566.4 235.8,566.8 234.7,570.0 C233.6,573.2 231.2,578.3 229.7,583.3 C228.2,588.3 226.6,594.4 225.5,599.9 C224.4,605.4 223.9,612.4 223.1,616.5 C222.3,620.6 221.7,624.8 220.6,624.8 C219.5,624.8 217.9,620.1 216.4,616.5 C214.9,612.9 213.1,607.6 211.4,603.2 C209.7,598.8 207.1,594.1 206.4,590.0 C205.7,585.9 208.4,582.2 207.3,578.3 C206.2,574.3 203.3,569.7 199.8,566.3 C196.3,562.9 189.7,560.6 186.5,558.0 C183.3,555.4 181.3,554.8 180.5,550.6 C179.7,546.5 182.2,538.2 181.5,533.1 C180.8,528.0 178.4,523.1 176.5,519.8 C174.6,516.5 172.7,514.9 169.9,513.2 C167.1,511.6 162.7,511.3 159.9,509.9 C157.1,508.5 154.6,506.8 153.3,504.9 C152.1,502.9 151.7,500.3 152.4,498.2Z" fill="#808080" stroke="#000" stroke-width="3.7" stroke-linejoin="round"/>
<path d="M123.2,640.2 C126.0,638.3 132.9,637.0 136.5,637.0 C140.1,637.0 142.6,638.8 144.8,640.2 C147.0,641.6 147.0,643.8 149.8,645.2 C152.6,646.6 158.3,648.2 161.5,648.5 C164.7,648.8 166.7,648.7 168.9,646.8 C171.1,644.9 172.7,642.1 174.8,636.9 C176.9,631.6 178.4,621.4 181.4,615.3 C184.4,609.2 189.1,603.8 193.0,600.3 C196.9,596.8 201.6,594.0 204.7,594.5 C207.8,595.0 209.4,599.5 211.4,603.2 C213.4,606.9 214.8,612.5 216.4,616.5 C218.1,620.5 219.1,623.2 221.3,626.9 C223.5,630.6 228.1,634.4 229.6,638.5 C231.1,642.6 231.1,647.4 230.4,651.8 C229.7,656.2 226.0,660.1 225.4,665.1 C224.8,670.1 227.8,676.7 227.1,681.7 C226.4,686.7 224.2,691.5 221.3,695.0 C218.4,698.5 214.9,700.5 209.6,702.5 C204.3,704.5 195.8,705.7 189.7,706.7 C183.6,707.7 178.1,708.4 173.1,708.3 C168.1,708.1 163.4,707.3 159.8,705.8 C156.2,704.3 155.4,700.7 151.5,699.2 C147.6,697.7 139.8,698.2 136.5,696.7 C133.2,695.2 133.7,693.2 131.5,690.1 C129.3,687.0 126.2,682.3 123.2,678.4 C120.2,674.5 115.2,670.1 113.3,666.8 C111.4,663.5 110.5,661.5 111.6,658.5 C112.7,655.5 118.0,651.5 119.9,648.5 C121.8,645.5 120.4,642.1 123.2,640.2Z" fill="#808080" stroke="#000" stroke-width="3.7" stroke-linejoin="round"/>
<path d="M211.7,87.1 C213.2,87.1 215.2,88.9 216.4,90.3 C217.6,91.7 218.4,93.4 218.6,95.2 C218.8,97.0 217.7,98.3 217.4,101.0 C217.1,103.7 218.1,110.2 216.9,111.6 C215.7,113.0 212.1,110.4 210.0,109.5 C207.9,108.6 205.1,108.4 204.4,106.4 C203.8,104.4 206.0,99.5 206.1,97.6 C206.2,95.6 205.0,96.0 205.2,94.7 C205.4,93.4 206.4,91.3 207.5,90.0 C208.6,88.7 210.2,87.0 211.7,87.1Z" fill="#000"/>
<path d="M211.7,91.0 C212.3,91.0 213.2,91.8 213.6,92.5 C214.0,93.2 214.4,94.2 214.3,95.0 C214.2,95.8 213.4,96.3 213.2,97.0 C212.9,97.7 212.8,98.0 212.8,99.0 C212.8,100.0 212.8,101.6 213.0,103.0 C213.2,104.4 214.3,106.7 214.0,107.2 C213.7,107.7 211.9,106.6 211.0,106.2 C210.1,105.8 208.8,105.3 208.6,104.6 C208.4,103.9 209.5,102.9 209.8,102.0 C210.1,101.1 210.3,99.8 210.3,99.0 C210.3,98.2 210.0,97.7 209.8,97.0 C209.6,96.3 209.1,95.8 209.1,95.0 C209.1,94.2 209.5,93.2 209.9,92.5 C210.3,91.8 211.1,91.0 211.7,91.0Z" fill="#FF0000"/>
<path d="M205.6,113.6 C206.5,113.3 207.5,113.4 208.6,113.8 C209.7,114.2 210.7,114.7 212.0,115.8 C213.3,116.9 215.4,118.6 216.4,120.2 C217.4,121.8 218.1,124.0 218.1,125.5 C218.1,127.0 217.3,128.5 216.6,129.4 C215.9,130.3 215.7,131.2 213.9,130.7 C212.2,130.2 208.1,127.3 206.1,126.5 C204.1,125.7 203.0,126.7 202.2,126.0 C201.3,125.3 200.7,123.8 201.0,122.6 C201.3,121.4 203.5,120.1 203.9,118.9 C204.3,117.7 202.9,116.4 203.2,115.5 C203.5,114.6 204.7,113.9 205.6,113.6Z" fill="#000"/>
<path d="M209.1,118.2 C209.7,118.2 212.1,119.9 213.0,121.1 C213.9,122.3 214.7,124.6 214.7,125.5 C214.7,126.4 213.8,126.9 213.0,126.7 C212.2,126.5 210.6,125.4 210.0,124.5 C209.4,123.6 209.8,122.1 209.6,121.1 C209.4,120.0 208.5,118.2 209.1,118.2Z" fill="#0026FF"/>
<path d="M163.2,515.5 C164.4,515.9 168.6,516.8 170.5,517.6 C172.4,518.4 173.4,518.9 174.5,520.3 C175.6,521.7 176.5,523.9 177.3,526.0 C178.1,528.1 178.7,530.6 179.2,533.1 C179.7,535.6 180.2,538.4 180.5,541.0 C180.8,543.6 181.1,547.2 181.2,548.5" fill="none" stroke="#fff" stroke-width="1.7" stroke-linecap="round" stroke-linejoin="round" />
<path d="M71.5,519.0 C74.0,518.0 80.6,514.2 86.4,513.2 C92.2,512.2 101.4,512.8 106.4,513.2 C111.4,513.6 113.3,514.9 116.3,515.7 C119.3,516.5 121.8,518.5 124.6,518.2 C127.4,517.9 129.4,514.9 132.9,514.0 C136.4,513.1 143.3,513.0 145.4,512.8" fill="none" stroke="#000" stroke-width="4.2" stroke-linecap="round" stroke-linejoin="round" />
<path d="M179.9,550.6 C181.0,551.8 183.2,555.4 186.5,558.0 C189.8,560.6 196.3,562.9 199.8,566.3 C203.3,569.7 206.2,574.9 207.3,578.3 C208.4,581.7 206.8,584.4 206.4,586.6 C206.0,588.8 206.5,589.7 204.8,591.6 C203.2,593.5 199.8,595.2 196.5,598.2 C193.2,601.2 187.9,605.2 184.8,609.9 C181.8,614.6 180.3,621.2 178.2,626.5 C176.1,631.8 174.3,637.9 172.4,641.5 C170.5,645.1 169.2,647.0 166.6,648.1 C164.0,649.2 159.9,648.8 156.6,648.1 C153.3,647.4 149.4,645.6 146.6,643.9 C143.8,642.2 141.1,639.1 140.0,638.1" fill="none" stroke="#000" stroke-width="6" stroke-linecap="round" stroke-linejoin="round" />
<path d="M178.6,549.0 C178.9,552.5 179.4,563.7 180.2,570.0 C181.0,576.3 182.7,581.3 183.2,586.6 C183.7,591.9 184.0,598.0 183.2,601.6 C182.4,605.2 181.5,605.4 178.2,608.2 C174.9,611.0 167.6,614.6 163.2,618.2 C158.8,621.8 154.5,626.5 151.6,629.8 C148.7,633.1 146.8,636.7 145.8,638.1" fill="none" stroke="#000" stroke-width="6.2" stroke-linecap="round" stroke-linejoin="round" />
<path d="M204.8,591.6 C205.9,593.5 209.5,599.1 211.4,603.2 C213.3,607.4 215.0,612.9 216.4,616.5 C217.8,620.1 219.1,623.4 219.7,624.8" fill="none" stroke="#000" stroke-width="5.2" stroke-linecap="round" stroke-linejoin="round" />
<path d="M111.0,636.2 C112.5,636.3 115.7,637.0 119.9,637.0 C124.2,637.0 132.3,636.0 136.5,636.5 C140.7,637.0 143.4,639.6 144.8,640.2" fill="none" stroke="#000" stroke-width="5.2" stroke-linecap="round" stroke-linejoin="round" /></g>
<path d="M31.0,219.5 C32.7,217.5 36.2,216.6 39.9,215.8 C43.6,215.1 48.8,214.8 53.2,215.0 C57.6,215.2 62.6,215.7 66.5,217.2 C70.4,218.7 73.8,221.4 76.4,224.0 C79.0,226.6 81.2,230.3 82.3,233.0 C83.4,235.7 83.1,238.0 83.1,240.0 C83.1,242.0 83.4,243.1 82.3,245.0 C81.2,246.9 78.2,247.7 76.4,251.6 C74.6,255.5 72.3,262.4 71.5,268.2 C70.7,274.0 71.5,283.4 71.5,286.5 C71.5,289.6 69.8,283.4 71.5,286.5 C73.2,289.6 78.1,298.7 81.4,304.8 C84.7,310.9 89.7,318.4 91.4,323.1 C93.1,327.8 91.5,330.6 91.4,333.1 C91.3,335.6 91.6,336.8 90.6,338.0 C89.6,339.2 87.7,339.2 85.6,340.5 C83.5,341.8 81.7,344.5 78.1,345.5 C74.5,346.5 67.6,345.5 64.0,346.3 C60.4,347.1 58.9,349.7 56.5,350.5 C54.1,351.3 52.2,352.6 49.9,351.3 C47.5,350.1 44.2,345.5 42.4,343.0 C40.6,340.5 38.6,339.7 39.0,336.4 C39.4,333.1 43.6,328.1 44.9,323.1 C46.1,318.1 46.2,312.6 46.5,306.5 C46.8,300.4 46.9,293.1 46.5,286.5 C46.1,279.9 45.4,272.7 44.0,266.6 C42.6,260.5 40.8,254.4 38.2,250.0 C35.6,245.6 30.1,242.7 28.2,240.0 C26.3,237.3 26.3,235.9 26.6,233.9 C26.9,231.9 29.2,230.4 29.9,228.0 C30.6,225.6 29.3,221.5 31.0,219.5Z" fill="#FFD800" stroke="#000" stroke-width="3.7" stroke-linejoin="round"/>
<path d="M27.4,125.5 C28.8,124.2 32.8,122.3 34.9,122.2 C37.0,122.1 36.3,124.7 39.9,125.0 C43.5,125.3 52.8,123.8 56.5,123.9 C60.2,124.0 61.2,124.0 62.3,125.5 C63.4,127.0 63.4,130.0 63.1,133.0 C62.8,136.0 61.5,139.1 60.7,143.3 C59.9,147.5 58.5,153.8 58.2,158.2 C57.9,162.6 58.0,166.0 59.0,169.9 C60.0,173.8 62.3,177.9 64.0,181.5 C65.7,185.1 67.8,188.2 69.0,191.5 C70.2,194.8 71.0,199.3 71.5,201.5 C72.0,203.7 72.5,203.6 72.3,204.8 C72.1,206.0 72.1,208.6 70.6,208.9 C69.1,209.2 65.5,207.0 63.1,206.4 C60.8,205.8 59.8,205.4 56.5,205.6 C53.2,205.8 47.8,206.6 43.2,207.3 C38.6,208.0 31.7,209.5 29.1,209.8 C26.6,210.1 27.9,210.0 27.9,208.9 C27.9,207.8 27.8,205.6 29.1,203.1 C30.4,200.6 34.5,197.3 35.7,194.0 C37.0,190.7 36.6,188.3 36.6,183.2 C36.6,178.1 36.7,169.6 35.7,163.2 C34.7,156.8 32.2,150.5 30.7,145.0 C29.2,139.5 27.2,133.2 26.6,130.0 C26.1,126.8 26.0,126.8 27.4,125.5Z" fill="#007F0E" stroke="#000" stroke-width="3.7" stroke-linejoin="round"/>
<path d="M33.2,62.3 C33.8,61.0 35.0,60.5 37.4,61.2 C39.8,61.9 45.2,64.7 47.4,66.5 C49.6,68.3 50.0,69.4 50.4,72.3 C50.8,75.2 49.6,80.6 49.9,83.9 C50.2,87.2 50.5,90.1 52.3,92.3 C54.1,94.5 59.2,95.5 60.7,97.2 C62.2,98.9 62.2,100.0 61.5,102.2 C60.8,104.4 59.3,108.5 56.5,110.5 C53.7,112.5 49.8,112.8 44.9,113.9 C40.0,115.0 30.7,117.1 27.4,117.2 C24.1,117.3 25.9,117.2 24.9,114.7 C23.9,112.2 21.7,105.0 21.6,102.2 C21.5,99.4 22.4,99.8 24.1,98.1 C25.8,96.4 30.2,94.4 31.6,92.3 C33.0,90.2 32.7,88.1 32.7,85.6 C32.7,83.1 31.4,80.1 31.6,77.3 C31.8,74.5 33.8,71.5 34.1,69.0 C34.4,66.5 32.7,63.6 33.2,62.3Z" fill="#FF0000" stroke="#000" stroke-width="3.1" stroke-linejoin="round"/>
<path d="M264.4,127.3 C265.4,127.1 267.0,127.7 267.9,128.8 C268.8,129.9 269.3,131.5 269.8,133.7 C270.3,135.9 270.9,139.1 271.0,142.0 C271.1,144.9 270.9,149.4 270.3,151.3 C269.7,153.2 269.6,153.4 267.4,153.2 C265.2,152.9 259.2,150.9 257.1,149.8 C255.0,148.8 254.7,148.0 254.9,146.9 C255.2,145.8 257.5,144.4 258.6,143.0 C259.7,141.6 261.0,140.8 261.5,138.6 C262.0,136.4 261.2,131.7 261.7,129.8 C262.2,127.9 263.4,127.5 264.4,127.3Z" fill="#000"/>
<path d="M264.9,132.2 C265.3,132.8 266.7,136.7 267.1,139.5 C267.5,142.3 267.7,147.5 267.4,149.3 C267.1,151.1 266.6,150.7 265.4,150.3 C264.2,149.9 260.3,148.3 260.0,146.9 C259.7,145.5 262.8,143.8 263.5,142.0 C264.2,140.2 264.2,137.7 264.4,136.1 C264.6,134.5 264.4,131.6 264.9,132.2Z" fill="#FF0000"/>
<path d="M258.1,156.1 C259.4,155.8 261.4,157.0 263.0,157.3 C264.6,157.6 266.3,157.2 267.4,157.8 C268.4,158.5 268.9,159.7 269.3,161.2 C269.7,162.7 270.0,164.9 269.8,166.6 C269.6,168.3 269.0,170.4 268.3,171.5 C267.6,172.6 266.9,173.6 265.9,173.4 C264.9,173.2 264.1,171.4 262.5,170.5 C260.9,169.6 257.9,169.2 256.6,168.0 C255.3,166.8 255.1,164.7 254.9,163.2 C254.7,161.7 254.7,160.4 255.2,159.2 C255.7,158.0 256.8,156.4 258.1,156.1Z" fill="#000"/>
<path d="M258.8,159.7 C260.1,159.5 265.2,160.9 266.4,162.2 C267.6,163.5 267.0,166.8 265.9,167.6 C264.8,168.4 260.9,167.8 259.6,167.1 C258.3,166.4 258.4,164.4 258.3,163.2 C258.2,162.0 257.5,159.9 258.8,159.7Z" fill="#0026FF"/>
<path d="M264.4,127.3 C265.4,127.1 267.0,127.7 267.9,128.8 C268.8,129.9 269.3,131.5 269.8,133.7 C270.3,135.9 270.9,139.1 271.0,142.0 C271.1,144.9 270.9,149.4 270.3,151.3 C269.7,153.2 269.6,153.4 267.4,153.2 C265.2,152.9 259.2,150.9 257.1,149.8 C255.0,148.8 254.7,148.0 254.9,146.9 C255.2,145.8 257.5,144.4 258.6,143.0 C259.7,141.6 261.0,140.8 261.5,138.6 C262.0,136.4 261.2,131.7 261.7,129.8 C262.2,127.9 263.4,127.5 264.4,127.3Z" fill="#000" transform="translate(387 0)"/>
<path d="M264.9,132.2 C265.3,132.8 266.7,136.7 267.1,139.5 C267.5,142.3 267.7,147.5 267.4,149.3 C267.1,151.1 266.6,150.7 265.4,150.3 C264.2,149.9 260.3,148.3 260.0,146.9 C259.7,145.5 262.8,143.8 263.5,142.0 C264.2,140.2 264.2,137.7 264.4,136.1 C264.6,134.5 264.4,131.6 264.9,132.2Z" fill="#0026FF" transform="translate(387 0)"/>
<path d="M258.1,156.1 C259.4,155.8 261.4,157.0 263.0,157.3 C264.6,157.6 266.3,157.2 267.4,157.8 C268.4,158.5 268.9,159.7 269.3,161.2 C269.7,162.7 270.0,164.9 269.8,166.6 C269.6,168.3 269.0,170.4 268.3,171.5 C267.6,172.6 266.9,173.6 265.9,173.4 C264.9,173.2 264.1,171.4 262.5,170.5 C260.9,169.6 257.9,169.2 256.6,168.0 C255.3,166.8 255.1,164.7 254.9,163.2 C254.7,161.7 254.7,160.4 255.2,159.2 C255.7,158.0 256.8,156.4 258.1,156.1Z" fill="#000" transform="translate(387 0)"/>
<path d="M258.8,159.7 C260.1,159.5 265.2,160.9 266.4,162.2 C267.6,163.5 267.0,166.8 265.9,167.6 C264.8,168.4 260.9,167.8 259.6,167.1 C258.3,166.4 258.4,164.4 258.3,163.2 C258.2,162.0 257.5,159.9 258.8,159.7Z" fill="#007F0E" transform="translate(387 0)"/>
<path d="M419.4,195.0 C421.3,192.7 424.8,191.6 428.5,190.8 C432.2,190.0 437.6,189.7 441.8,190.0 C446.0,190.3 450.0,190.8 453.5,192.5 C457.0,194.2 460.0,196.7 462.6,199.9 C465.2,203.1 467.9,208.3 469.3,211.6 C470.7,214.9 470.9,217.1 470.9,219.9 C470.9,222.7 470.6,225.7 469.3,228.2 C468.1,230.7 465.1,231.2 463.4,234.8 C461.7,238.4 460.3,245.1 459.3,249.8 C458.3,254.5 457.7,259.3 457.6,263.1 C457.5,266.9 458.4,270.9 458.6,272.5 C458.8,274.1 457.5,270.7 458.6,272.5 C459.7,274.3 462.9,279.0 465.1,283.3 C467.3,287.6 469.5,292.8 471.7,298.2 C473.9,303.6 476.9,310.9 478.2,315.5 C479.5,320.1 479.3,323.1 479.3,326.0 C479.3,328.9 478.7,331.1 478.4,333.1 C478.1,335.1 478.6,336.8 477.6,338.0 C476.6,339.2 474.7,339.2 472.6,340.5 C470.5,341.8 468.7,344.5 465.1,345.5 C461.5,346.5 454.6,345.5 451.0,346.3 C447.4,347.1 445.9,349.7 443.5,350.5 C441.1,351.3 439.2,352.6 436.9,351.3 C434.5,350.1 431.2,345.5 429.4,343.0 C427.6,340.5 425.6,339.7 426.0,336.4 C426.4,333.1 430.6,328.1 431.9,323.1 C433.1,318.1 433.2,312.6 433.5,306.5 C433.8,300.4 433.8,294.0 433.5,286.5 C433.2,279.0 432.7,268.3 431.9,261.4 C431.1,254.4 430.0,250.1 428.5,244.8 C427.0,239.5 425.1,234.1 422.7,229.8 C420.3,225.5 415.9,221.9 414.4,219.0 C412.9,216.1 413.2,214.8 413.6,212.4 C414.0,210.1 415.9,207.8 416.9,204.9 C417.9,202.0 417.5,197.3 419.4,195.0Z" fill="#FFD800" stroke="#000" stroke-width="3.7" stroke-linejoin="round"/>
<path d="M414.4,103.5 C415.8,102.2 419.8,100.3 421.9,100.2 C424.0,100.1 423.3,102.7 426.9,103.0 C430.5,103.3 439.8,101.8 443.5,101.9 C447.2,102.0 448.2,102.0 449.3,103.5 C450.4,105.0 450.4,108.0 450.1,111.0 C449.8,114.0 448.5,117.1 447.7,121.3 C446.9,125.5 445.5,131.8 445.2,136.2 C444.9,140.6 445.0,144.0 446.0,147.9 C447.0,151.8 449.3,155.9 451.0,159.5 C452.7,163.1 454.8,166.2 456.0,169.5 C457.2,172.8 457.9,177.3 458.5,179.5 C459.1,181.7 459.4,181.6 459.3,182.8 C459.2,184.0 459.1,186.6 457.6,186.9 C456.1,187.2 452.5,185.0 450.1,184.4 C447.8,183.8 446.8,183.4 443.5,183.6 C440.2,183.8 434.8,184.6 430.2,185.3 C425.6,186.0 418.7,187.5 416.1,187.8 C413.6,188.1 414.9,188.0 414.9,186.9 C414.9,185.8 414.8,183.6 416.1,181.1 C417.4,178.6 421.4,175.3 422.7,172.0 C423.9,168.7 423.6,166.3 423.6,161.2 C423.6,156.1 423.7,147.6 422.7,141.2 C421.7,134.8 419.2,128.5 417.7,123.0 C416.2,117.5 414.2,111.2 413.6,108.0 C413.1,104.8 413.0,104.8 414.4,103.5Z" fill="#007F0E" stroke="#000" stroke-width="3.7" stroke-linejoin="round"/>
<path d="M419.7,39.7 C420.2,38.4 421.5,37.9 423.9,38.6 C426.3,39.3 431.7,42.0 433.9,43.9 C436.1,45.8 436.5,46.8 436.9,49.7 C437.3,52.6 436.1,58.0 436.4,61.3 C436.7,64.6 437.0,67.5 438.8,69.7 C440.6,71.9 445.7,72.9 447.2,74.6 C448.7,76.2 448.7,77.4 448.0,79.6 C447.3,81.8 445.8,86.0 443.0,87.9 C440.2,89.9 436.2,90.2 431.4,91.3 C426.5,92.4 417.2,94.5 413.9,94.6 C410.6,94.7 412.4,94.6 411.4,92.1 C410.4,89.6 408.2,82.4 408.1,79.6 C408.0,76.8 408.9,77.2 410.6,75.5 C412.3,73.8 416.7,71.8 418.1,69.7 C419.5,67.6 419.2,65.5 419.2,63.0 C419.2,60.5 417.9,57.5 418.1,54.7 C418.3,51.9 420.3,48.9 420.6,46.4 C420.9,43.9 419.1,41.0 419.7,39.7Z" fill="#FF0000" stroke="#000" stroke-width="3.1" stroke-linejoin="round"/>
<g fill="#F5051A"><rect x="7.2" y="228.8" width="7.2" height="5.2" transform="rotate(-45.0 10.8 231.4)"/><rect x="17.2" y="218.8" width="7.2" height="5.2" transform="rotate(-40.3 20.8 221.4)"/><rect x="28.8" y="210.5" width="7.2" height="5.2" transform="rotate(-32.9 32.4 213.1)"/><rect x="40.4" y="203.8" width="7.2" height="5.2" transform="rotate(-25.0 44.0 206.4)"/><rect x="53.7" y="198.9" width="7.2" height="5.2" transform="rotate(-19.5 57.3 201.5)"/><rect x="67.0" y="194.4" width="7.2" height="5.2" transform="rotate(-14.3 70.6 197.0)"/><rect x="81.1" y="191.9" width="7.2" height="5.2" transform="rotate(-7.8 84.7 194.5)"/><rect x="95.3" y="190.5" width="7.2" height="5.2" transform="rotate(-3.4 98.9 193.1)"/><rect x="109.4" y="190.2" width="7.2" height="5.2" transform="rotate(0.0 113.0 192.8)"/><rect x="123.5" y="190.5" width="7.2" height="5.2" transform="rotate(4.1 127.1 193.1)"/><rect x="137.6" y="192.2" width="7.2" height="5.2" transform="rotate(7.9 141.2 194.8)"/><rect x="151.6" y="194.4" width="7.2" height="5.2" transform="rotate(12.1 155.2 197.0)"/><rect x="164.6" y="198.0" width="7.2" height="5.2" transform="rotate(16.5 168.2 200.6)"/><rect x="177.9" y="202.2" width="7.2" height="5.2" transform="rotate(17.3 181.5 204.8)"/><rect x="191.2" y="206.3" width="7.2" height="5.2" transform="rotate(18.3 194.8 208.9)"/><rect x="204.5" y="211.0" width="7.2" height="5.2" transform="rotate(22.7 208.1 213.6)"/><rect x="217.0" y="217.1" width="7.2" height="5.2" transform="rotate(27.2 220.6 219.7)"/><rect x="229.4" y="223.8" width="7.2" height="5.2" transform="rotate(30.5 233.0 226.4)"/><rect x="241.1" y="231.3" width="7.2" height="5.2" transform="rotate(31.6 244.7 233.9)"/><rect x="253.9" y="238.9" width="7.2" height="5.2" transform="rotate(33.7 257.5 241.5)"/><rect x="265.2" y="247.4" width="7.2" height="5.2" transform="rotate(37.5 268.8 250.0)"/><rect x="276.8" y="256.5" width="7.2" height="5.2" transform="rotate(38.1 280.4 259.1)"/></g>
<g fill="#F5051A"><rect x="394.2" y="193.8" width="7.2" height="5.2" transform="rotate(-13.2 397.8 196.4)"/><rect x="408.3" y="190.5" width="7.2" height="5.2" transform="rotate(-11.6 411.9 193.1)"/><rect x="422.4" y="188.0" width="7.2" height="5.2" transform="rotate(-8.7 426.0 190.6)"/><rect x="435.7" y="186.3" width="7.2" height="5.2" transform="rotate(-4.6 439.3 188.9)"/><rect x="449.9" y="185.8" width="7.2" height="5.2" transform="rotate(-1.6 453.5 188.4)"/><rect x="464.0" y="185.5" width="7.2" height="5.2" transform="rotate(-0.6 467.6 188.1)"/><rect x="478.1" y="185.5" width="7.2" height="5.2" transform="rotate(1.6 481.7 188.1)"/><rect x="492.2" y="186.3" width="7.2" height="5.2" transform="rotate(5.0 495.8 188.9)"/><rect x="506.4" y="188.0" width="7.2" height="5.2" transform="rotate(6.9 510.0 190.6)"/><rect x="520.5" y="189.7" width="7.2" height="5.2" transform="rotate(8.9 524.1 192.3)"/><rect x="533.9" y="192.3" width="7.2" height="5.2" transform="rotate(12.1 537.5 194.9)"/><rect x="548.0" y="195.6" width="7.2" height="5.2" transform="rotate(13.7 551.6 198.2)"/><rect x="561.3" y="199.0" width="7.2" height="5.2" transform="rotate(16.7 564.9 201.6)"/><rect x="574.6" y="203.6" width="7.2" height="5.2" transform="rotate(20.4 578.2 206.2)"/><rect x="587.9" y="208.9" width="7.2" height="5.2" transform="rotate(22.8 591.5 211.5)"/><rect x="601.2" y="214.8" width="7.2" height="5.2" transform="rotate(24.5 604.8 217.4)"/><rect x="613.6" y="220.6" width="7.2" height="5.2" transform="rotate(26.5 617.2 223.2)"/><rect x="626.1" y="227.2" width="7.2" height="5.2" transform="rotate(29.4 629.7 229.8)"/><rect x="638.6" y="234.7" width="7.2" height="5.2" transform="rotate(34.1 642.2 237.3)"/><rect x="649.4" y="243.0" width="7.2" height="5.2" transform="rotate(38.9 653.0 245.6)"/><rect x="660.2" y="252.1" width="7.2" height="5.2" transform="rotate(44.3 663.8 254.7)"/><rect x="669.0" y="262.1" width="7.2" height="5.2" transform="rotate(48.7 672.6 264.7)"/></g>
<path d="M43.5,33.6 V49.6 M112.3,19.2 V35.8 M119.3,19.2 V35.8 M161.6,43.3 V59.4 M168.7,43.3 V59.4 M176.0,43.3 V59.4 M203.6,57.9 V74.0 M208.0,57.6 L215.3,73.1 L222.4,57.6 M260.3,98.9 L267.0,114.5 L273.5,98.9 M430.2,11.4 V27.4 M499.3,19.2 V35.8 M506.3,19.2 V35.8 M548.6,43.3 V59.4 M555.7,43.3 V59.4 M563.0,43.3 V59.4 M590.6,57.9 V74.0 M595.0,57.6 L602.3,73.1 L609.4,57.6 M647.3,98.9 L654.0,114.5 L660.5,98.9" fill="none" stroke="#222" stroke-width="1.9" stroke-linejoin="bevel"/>
<rect x="739.2" y="433.40" width="278.7" height="46.2" fill="#FF9933" stroke="#1e1610" stroke-width="2"/><rect x="739.2" y="488.70" width="278.7" height="46.2" fill="#99CCFF" stroke="#1e1610" stroke-width="2"/><rect x="739.2" y="544.00" width="278.7" height="46.2" fill="#99FF66" stroke="#1e1610" stroke-width="2"/><rect x="739.2" y="599.30" width="278.7" height="46.2" fill="#FFFF99" stroke="#1e1610" stroke-width="2"/><rect x="739.2" y="654.60" width="278.7" height="46.2" fill="#CCCCFF" stroke="#1e1610" stroke-width="2"/>
</svg>
<span class="lt" style="top:440.70px;transform:scaleX(1.0060)">Phalanges distales</span>
<span class="lt" style="top:496.20px;transform:scaleX(0.9610)">Phalanges mediae</span>
<span class="lt" style="top:551.70px;transform:scaleX(0.9470)">Phalanges proximales</span>
<span class="lt" style="top:607.20px;transform:scaleX(0.8625)">Metatarsalia</span>
<span class="lt" style="top:662.70px;transform:scaleX(1.0010)">Ossa tarsi</span>
</body></html>
